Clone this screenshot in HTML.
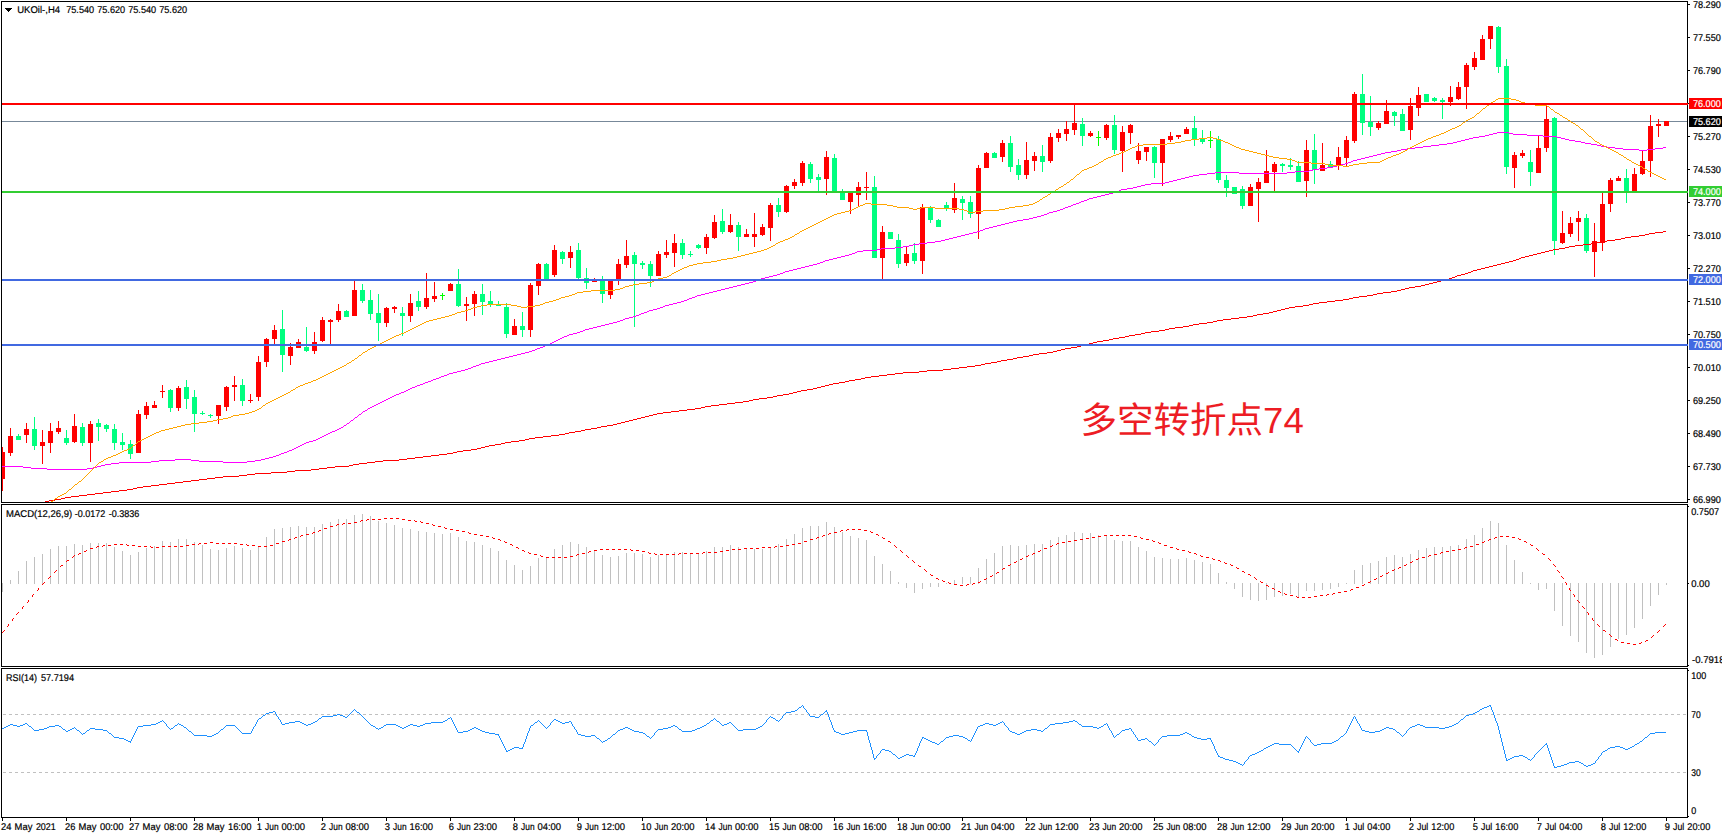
<!DOCTYPE html>
<html lang="zh"><head><meta charset="utf-8"><title>UKOil H4</title>
<style>html,body{margin:0;padding:0;background:#fff;overflow:hidden}svg{display:block}text{white-space:pre}</style></head>
<body>
<svg width="1722" height="838" viewBox="0 0 1722 838" font-family='"Liberation Sans", sans-serif' font-size="9.8" text-rendering="geometricPrecision">
<rect x="0" y="0" width="1722" height="838" fill="#fff"/>
<g shape-rendering="crispEdges">
<rect x="2" y="121" width="1685" height="1" fill="#778899"/>
<rect x="2" y="447" width="1" height="44" fill="#ff0000"/>
<rect x="2" y="452" width="3" height="27" fill="#ff0000"/>
<rect x="10" y="428" width="1" height="28" fill="#ff0000"/>
<rect x="8" y="436" width="5" height="17" fill="#ff0000"/>
<rect x="18" y="434" width="1" height="6" fill="#00ff7f"/>
<rect x="16" y="436" width="5" height="4" fill="#00ff7f"/>
<rect x="26" y="423" width="1" height="20" fill="#ff0000"/>
<rect x="24" y="429" width="5" height="6" fill="#ff0000"/>
<rect x="34" y="417" width="1" height="33" fill="#00ff7f"/>
<rect x="32" y="429" width="5" height="17" fill="#00ff7f"/>
<rect x="42" y="430" width="1" height="34" fill="#ff0000"/>
<rect x="40" y="442" width="5" height="4" fill="#ff0000"/>
<rect x="50" y="423" width="1" height="30" fill="#ff0000"/>
<rect x="48" y="431" width="5" height="12" fill="#ff0000"/>
<rect x="58" y="421" width="1" height="13" fill="#ff0000"/>
<rect x="56" y="428" width="5" height="4" fill="#ff0000"/>
<rect x="66" y="430" width="1" height="15" fill="#00ff7f"/>
<rect x="64" y="438" width="5" height="5" fill="#00ff7f"/>
<rect x="74" y="414" width="1" height="29" fill="#ff0000"/>
<rect x="72" y="426" width="5" height="16" fill="#ff0000"/>
<rect x="82" y="423" width="1" height="23" fill="#00ff7f"/>
<rect x="80" y="427" width="5" height="16" fill="#00ff7f"/>
<rect x="90" y="421" width="1" height="41" fill="#ff0000"/>
<rect x="88" y="424" width="5" height="19" fill="#ff0000"/>
<rect x="98" y="419" width="1" height="22" fill="#00ff7f"/>
<rect x="96" y="423" width="5" height="4" fill="#00ff7f"/>
<rect x="106" y="424" width="1" height="8" fill="#00ff7f"/>
<rect x="104" y="425" width="5" height="4" fill="#00ff7f"/>
<rect x="114" y="424" width="1" height="26" fill="#00ff7f"/>
<rect x="112" y="429" width="5" height="14" fill="#00ff7f"/>
<rect x="122" y="433" width="1" height="17" fill="#00ff7f"/>
<rect x="120" y="442" width="5" height="3" fill="#00ff7f"/>
<rect x="130" y="440" width="1" height="19" fill="#00ff7f"/>
<rect x="128" y="444" width="5" height="10" fill="#00ff7f"/>
<rect x="138" y="410" width="1" height="43" fill="#ff0000"/>
<rect x="136" y="414" width="5" height="39" fill="#ff0000"/>
<rect x="146" y="402" width="1" height="17" fill="#ff0000"/>
<rect x="144" y="406" width="5" height="9" fill="#ff0000"/>
<rect x="154" y="401" width="1" height="7" fill="#ff0000"/>
<rect x="152" y="405" width="5" height="3" fill="#ff0000"/>
<rect x="162" y="385" width="1" height="13" fill="#ff0000"/>
<rect x="160" y="391" width="5" height="1" fill="#ff0000"/>
<rect x="170" y="389" width="1" height="23" fill="#00ff7f"/>
<rect x="168" y="390" width="5" height="18" fill="#00ff7f"/>
<rect x="178" y="386" width="1" height="25" fill="#ff0000"/>
<rect x="176" y="388" width="5" height="20" fill="#ff0000"/>
<rect x="186" y="380" width="1" height="29" fill="#00ff7f"/>
<rect x="184" y="387" width="5" height="12" fill="#00ff7f"/>
<rect x="194" y="390" width="1" height="42" fill="#00ff7f"/>
<rect x="192" y="397" width="5" height="17" fill="#00ff7f"/>
<rect x="202" y="411" width="1" height="4" fill="#00ff7f"/>
<rect x="200" y="413" width="5" height="1" fill="#00ff7f"/>
<rect x="210" y="414" width="1" height="4" fill="#00ff7f"/>
<rect x="208" y="415" width="5" height="1" fill="#00ff7f"/>
<rect x="218" y="405" width="1" height="19" fill="#ff0000"/>
<rect x="216" y="405" width="5" height="11" fill="#ff0000"/>
<rect x="226" y="386" width="1" height="25" fill="#ff0000"/>
<rect x="224" y="387" width="5" height="20" fill="#ff0000"/>
<rect x="234" y="376" width="1" height="25" fill="#ff0000"/>
<rect x="232" y="385" width="5" height="2" fill="#ff0000"/>
<rect x="242" y="379" width="1" height="27" fill="#00ff7f"/>
<rect x="240" y="385" width="5" height="16" fill="#00ff7f"/>
<rect x="250" y="394" width="1" height="9" fill="#ff0000"/>
<rect x="248" y="400" width="5" height="1" fill="#ff0000"/>
<rect x="258" y="356" width="1" height="45" fill="#ff0000"/>
<rect x="256" y="362" width="5" height="35" fill="#ff0000"/>
<rect x="266" y="338" width="1" height="29" fill="#ff0000"/>
<rect x="264" y="339" width="5" height="23" fill="#ff0000"/>
<rect x="274" y="325" width="1" height="19" fill="#ff0000"/>
<rect x="272" y="330" width="5" height="9" fill="#ff0000"/>
<rect x="282" y="310" width="1" height="62" fill="#00ff7f"/>
<rect x="280" y="329" width="5" height="26" fill="#00ff7f"/>
<rect x="290" y="343" width="1" height="22" fill="#ff0000"/>
<rect x="288" y="347" width="5" height="9" fill="#ff0000"/>
<rect x="298" y="339" width="1" height="9" fill="#ff0000"/>
<rect x="296" y="342" width="5" height="6" fill="#ff0000"/>
<rect x="306" y="327" width="1" height="25" fill="#00ff7f"/>
<rect x="304" y="347" width="5" height="4" fill="#00ff7f"/>
<rect x="314" y="332" width="1" height="22" fill="#ff0000"/>
<rect x="312" y="342" width="5" height="9" fill="#ff0000"/>
<rect x="322" y="317" width="1" height="25" fill="#ff0000"/>
<rect x="320" y="320" width="5" height="21" fill="#ff0000"/>
<rect x="330" y="319" width="1" height="25" fill="#ff0000"/>
<rect x="328" y="320" width="5" height="2" fill="#ff0000"/>
<rect x="338" y="304" width="1" height="18" fill="#ff0000"/>
<rect x="336" y="311" width="5" height="9" fill="#ff0000"/>
<rect x="346" y="310" width="1" height="7" fill="#00ff7f"/>
<rect x="344" y="311" width="5" height="6" fill="#00ff7f"/>
<rect x="354" y="281" width="1" height="35" fill="#ff0000"/>
<rect x="352" y="290" width="5" height="26" fill="#ff0000"/>
<rect x="362" y="284" width="1" height="19" fill="#00ff7f"/>
<rect x="360" y="290" width="5" height="11" fill="#00ff7f"/>
<rect x="370" y="290" width="1" height="30" fill="#00ff7f"/>
<rect x="368" y="300" width="5" height="14" fill="#00ff7f"/>
<rect x="378" y="294" width="1" height="47" fill="#00ff7f"/>
<rect x="376" y="313" width="5" height="10" fill="#00ff7f"/>
<rect x="386" y="307" width="1" height="20" fill="#ff0000"/>
<rect x="384" y="308" width="5" height="15" fill="#ff0000"/>
<rect x="394" y="306" width="1" height="7" fill="#ff0000"/>
<rect x="392" y="307" width="5" height="2" fill="#ff0000"/>
<rect x="402" y="307" width="1" height="29" fill="#00ff7f"/>
<rect x="400" y="313" width="5" height="3" fill="#00ff7f"/>
<rect x="410" y="294" width="1" height="28" fill="#ff0000"/>
<rect x="408" y="303" width="5" height="13" fill="#ff0000"/>
<rect x="418" y="291" width="1" height="20" fill="#00ff7f"/>
<rect x="416" y="301" width="5" height="6" fill="#00ff7f"/>
<rect x="426" y="273" width="1" height="36" fill="#ff0000"/>
<rect x="424" y="298" width="5" height="9" fill="#ff0000"/>
<rect x="434" y="282" width="1" height="20" fill="#ff0000"/>
<rect x="432" y="296" width="5" height="3" fill="#ff0000"/>
<rect x="442" y="293" width="1" height="7" fill="#00ff00"/>
<rect x="440" y="295" width="5" height="1" fill="#00ff00"/>
<rect x="450" y="283" width="1" height="8" fill="#ff0000"/>
<rect x="448" y="284" width="5" height="7" fill="#ff0000"/>
<rect x="458" y="269" width="1" height="38" fill="#00ff7f"/>
<rect x="456" y="284" width="5" height="22" fill="#00ff7f"/>
<rect x="466" y="297" width="1" height="24" fill="#ff0000"/>
<rect x="464" y="304" width="5" height="2" fill="#ff0000"/>
<rect x="474" y="291" width="1" height="25" fill="#ff0000"/>
<rect x="472" y="294" width="5" height="10" fill="#ff0000"/>
<rect x="482" y="284" width="1" height="31" fill="#00ff7f"/>
<rect x="480" y="294" width="5" height="8" fill="#00ff7f"/>
<rect x="490" y="291" width="1" height="16" fill="#00ff7f"/>
<rect x="488" y="301" width="5" height="3" fill="#00ff7f"/>
<rect x="498" y="301" width="1" height="5" fill="#00ff7f"/>
<rect x="496" y="304" width="5" height="2" fill="#00ff7f"/>
<rect x="506" y="303" width="1" height="35" fill="#00ff7f"/>
<rect x="504" y="307" width="5" height="27" fill="#00ff7f"/>
<rect x="514" y="319" width="1" height="16" fill="#ff0000"/>
<rect x="512" y="326" width="5" height="9" fill="#ff0000"/>
<rect x="522" y="312" width="1" height="25" fill="#00ff7f"/>
<rect x="520" y="326" width="5" height="4" fill="#00ff7f"/>
<rect x="530" y="283" width="1" height="54" fill="#ff0000"/>
<rect x="528" y="285" width="5" height="45" fill="#ff0000"/>
<rect x="538" y="263" width="1" height="32" fill="#ff0000"/>
<rect x="536" y="264" width="5" height="22" fill="#ff0000"/>
<rect x="546" y="263" width="1" height="17" fill="#00ff7f"/>
<rect x="544" y="264" width="5" height="16" fill="#00ff7f"/>
<rect x="554" y="245" width="1" height="32" fill="#ff0000"/>
<rect x="552" y="250" width="5" height="25" fill="#ff0000"/>
<rect x="562" y="251" width="1" height="13" fill="#00ff7f"/>
<rect x="560" y="252" width="5" height="7" fill="#00ff7f"/>
<rect x="570" y="246" width="1" height="22" fill="#ff0000"/>
<rect x="568" y="252" width="5" height="6" fill="#ff0000"/>
<rect x="578" y="243" width="1" height="36" fill="#00ff7f"/>
<rect x="576" y="250" width="5" height="28" fill="#00ff7f"/>
<rect x="586" y="268" width="1" height="21" fill="#00ff7f"/>
<rect x="584" y="278" width="5" height="5" fill="#00ff7f"/>
<rect x="594" y="278" width="1" height="4" fill="#ff0000"/>
<rect x="592" y="279" width="5" height="3" fill="#ff0000"/>
<rect x="602" y="276" width="1" height="27" fill="#00ff7f"/>
<rect x="600" y="280" width="5" height="14" fill="#00ff7f"/>
<rect x="610" y="280" width="1" height="19" fill="#ff0000"/>
<rect x="608" y="280" width="5" height="15" fill="#ff0000"/>
<rect x="618" y="259" width="1" height="26" fill="#ff0000"/>
<rect x="616" y="264" width="5" height="15" fill="#ff0000"/>
<rect x="626" y="240" width="1" height="28" fill="#ff0000"/>
<rect x="624" y="256" width="5" height="9" fill="#ff0000"/>
<rect x="634" y="252" width="1" height="75" fill="#00ff7f"/>
<rect x="632" y="255" width="5" height="9" fill="#00ff7f"/>
<rect x="642" y="261" width="1" height="8" fill="#00ff7f"/>
<rect x="640" y="263" width="5" height="2" fill="#00ff7f"/>
<rect x="650" y="261" width="1" height="26" fill="#00ff7f"/>
<rect x="648" y="264" width="5" height="12" fill="#00ff7f"/>
<rect x="658" y="251" width="1" height="25" fill="#ff0000"/>
<rect x="656" y="254" width="5" height="22" fill="#ff0000"/>
<rect x="666" y="240" width="1" height="18" fill="#ff0000"/>
<rect x="664" y="252" width="5" height="3" fill="#ff0000"/>
<rect x="674" y="234" width="1" height="33" fill="#ff0000"/>
<rect x="672" y="243" width="5" height="10" fill="#ff0000"/>
<rect x="682" y="239" width="1" height="20" fill="#00ff7f"/>
<rect x="680" y="243" width="5" height="12" fill="#00ff7f"/>
<rect x="690" y="251" width="1" height="6" fill="#00ff7f"/>
<rect x="688" y="254" width="5" height="1" fill="#00ff7f"/>
<rect x="698" y="244" width="1" height="5" fill="#00ff7f"/>
<rect x="696" y="245" width="5" height="3" fill="#00ff7f"/>
<rect x="706" y="234" width="1" height="20" fill="#ff0000"/>
<rect x="704" y="237" width="5" height="11" fill="#ff0000"/>
<rect x="714" y="215" width="1" height="24" fill="#ff0000"/>
<rect x="712" y="222" width="5" height="16" fill="#ff0000"/>
<rect x="722" y="209" width="1" height="25" fill="#00ff7f"/>
<rect x="720" y="221" width="5" height="11" fill="#00ff7f"/>
<rect x="730" y="214" width="1" height="19" fill="#ff0000"/>
<rect x="728" y="225" width="5" height="7" fill="#ff0000"/>
<rect x="738" y="222" width="1" height="29" fill="#00ff7f"/>
<rect x="736" y="225" width="5" height="12" fill="#00ff7f"/>
<rect x="746" y="229" width="1" height="8" fill="#ff0000"/>
<rect x="744" y="234" width="5" height="3" fill="#ff0000"/>
<rect x="754" y="213" width="1" height="34" fill="#ff0000"/>
<rect x="752" y="234" width="5" height="3" fill="#ff0000"/>
<rect x="762" y="224" width="1" height="12" fill="#ff0000"/>
<rect x="760" y="227" width="5" height="8" fill="#ff0000"/>
<rect x="770" y="203" width="1" height="38" fill="#ff0000"/>
<rect x="768" y="205" width="5" height="23" fill="#ff0000"/>
<rect x="778" y="198" width="1" height="19" fill="#00ff7f"/>
<rect x="776" y="205" width="5" height="7" fill="#00ff7f"/>
<rect x="786" y="185" width="1" height="28" fill="#ff0000"/>
<rect x="784" y="186" width="5" height="26" fill="#ff0000"/>
<rect x="794" y="179" width="1" height="10" fill="#ff0000"/>
<rect x="792" y="182" width="5" height="4" fill="#ff0000"/>
<rect x="802" y="161" width="1" height="25" fill="#ff0000"/>
<rect x="800" y="163" width="5" height="20" fill="#ff0000"/>
<rect x="810" y="162" width="1" height="21" fill="#00ff7f"/>
<rect x="808" y="164" width="5" height="15" fill="#00ff7f"/>
<rect x="818" y="174" width="1" height="17" fill="#00ff7f"/>
<rect x="816" y="177" width="5" height="3" fill="#00ff7f"/>
<rect x="826" y="151" width="1" height="44" fill="#ff0000"/>
<rect x="824" y="157" width="5" height="22" fill="#ff0000"/>
<rect x="834" y="154" width="1" height="38" fill="#00ff7f"/>
<rect x="832" y="158" width="5" height="34" fill="#00ff7f"/>
<rect x="842" y="189" width="1" height="11" fill="#00ff7f"/>
<rect x="840" y="191" width="5" height="9" fill="#00ff7f"/>
<rect x="850" y="193" width="1" height="21" fill="#ff0000"/>
<rect x="848" y="193" width="5" height="9" fill="#ff0000"/>
<rect x="858" y="182" width="1" height="24" fill="#ff0000"/>
<rect x="856" y="187" width="5" height="8" fill="#ff0000"/>
<rect x="866" y="172" width="1" height="28" fill="#ff0000"/>
<rect x="864" y="187" width="5" height="1" fill="#ff0000"/>
<rect x="874" y="176" width="1" height="82" fill="#00ff7f"/>
<rect x="872" y="187" width="5" height="71" fill="#00ff7f"/>
<rect x="882" y="226" width="1" height="53" fill="#ff0000"/>
<rect x="880" y="232" width="5" height="26" fill="#ff0000"/>
<rect x="890" y="232" width="1" height="7" fill="#00ff7f"/>
<rect x="888" y="232" width="5" height="7" fill="#00ff7f"/>
<rect x="898" y="234" width="1" height="34" fill="#00ff7f"/>
<rect x="896" y="240" width="5" height="24" fill="#00ff7f"/>
<rect x="906" y="246" width="1" height="20" fill="#ff0000"/>
<rect x="904" y="254" width="5" height="9" fill="#ff0000"/>
<rect x="914" y="243" width="1" height="21" fill="#00ff7f"/>
<rect x="912" y="253" width="5" height="8" fill="#00ff7f"/>
<rect x="922" y="204" width="1" height="70" fill="#ff0000"/>
<rect x="920" y="207" width="5" height="54" fill="#ff0000"/>
<rect x="930" y="206" width="1" height="17" fill="#00ff7f"/>
<rect x="928" y="207" width="5" height="13" fill="#00ff7f"/>
<rect x="938" y="219" width="1" height="8" fill="#00ff7f"/>
<rect x="936" y="220" width="5" height="7" fill="#00ff7f"/>
<rect x="946" y="202" width="1" height="9" fill="#00ff7f"/>
<rect x="944" y="205" width="5" height="3" fill="#00ff7f"/>
<rect x="954" y="183" width="1" height="30" fill="#ff0000"/>
<rect x="952" y="198" width="5" height="12" fill="#ff0000"/>
<rect x="962" y="196" width="1" height="24" fill="#00ff7f"/>
<rect x="960" y="199" width="5" height="4" fill="#00ff7f"/>
<rect x="970" y="196" width="1" height="22" fill="#00ff7f"/>
<rect x="968" y="202" width="5" height="12" fill="#00ff7f"/>
<rect x="978" y="165" width="1" height="74" fill="#ff0000"/>
<rect x="976" y="168" width="5" height="46" fill="#ff0000"/>
<rect x="986" y="152" width="1" height="16" fill="#ff0000"/>
<rect x="984" y="153" width="5" height="15" fill="#ff0000"/>
<rect x="994" y="152" width="1" height="6" fill="#00ff7f"/>
<rect x="992" y="153" width="5" height="5" fill="#00ff7f"/>
<rect x="1002" y="140" width="1" height="22" fill="#ff0000"/>
<rect x="1000" y="143" width="5" height="14" fill="#ff0000"/>
<rect x="1010" y="136" width="1" height="36" fill="#00ff7f"/>
<rect x="1008" y="143" width="5" height="24" fill="#00ff7f"/>
<rect x="1018" y="159" width="1" height="21" fill="#00ff7f"/>
<rect x="1016" y="165" width="5" height="10" fill="#00ff7f"/>
<rect x="1026" y="142" width="1" height="37" fill="#ff0000"/>
<rect x="1024" y="160" width="5" height="15" fill="#ff0000"/>
<rect x="1034" y="152" width="1" height="19" fill="#ff0000"/>
<rect x="1032" y="156" width="5" height="5" fill="#ff0000"/>
<rect x="1042" y="145" width="1" height="27" fill="#00ff7f"/>
<rect x="1040" y="156" width="5" height="6" fill="#00ff7f"/>
<rect x="1050" y="133" width="1" height="30" fill="#ff0000"/>
<rect x="1048" y="137" width="5" height="24" fill="#ff0000"/>
<rect x="1058" y="129" width="1" height="13" fill="#ff0000"/>
<rect x="1056" y="133" width="5" height="5" fill="#ff0000"/>
<rect x="1066" y="121" width="1" height="20" fill="#ff0000"/>
<rect x="1064" y="129" width="5" height="5" fill="#ff0000"/>
<rect x="1074" y="105" width="1" height="30" fill="#ff0000"/>
<rect x="1072" y="123" width="5" height="7" fill="#ff0000"/>
<rect x="1082" y="118" width="1" height="28" fill="#00ff7f"/>
<rect x="1080" y="124" width="5" height="12" fill="#00ff7f"/>
<rect x="1090" y="131" width="1" height="6" fill="#ff0000"/>
<rect x="1088" y="133" width="5" height="3" fill="#ff0000"/>
<rect x="1098" y="131" width="1" height="15" fill="#00ff00"/>
<rect x="1096" y="137" width="5" height="1" fill="#00ff00"/>
<rect x="1106" y="124" width="1" height="16" fill="#ff0000"/>
<rect x="1104" y="125" width="5" height="13" fill="#ff0000"/>
<rect x="1114" y="115" width="1" height="39" fill="#00ff7f"/>
<rect x="1112" y="125" width="5" height="25" fill="#00ff7f"/>
<rect x="1122" y="126" width="1" height="46" fill="#ff0000"/>
<rect x="1120" y="132" width="5" height="19" fill="#ff0000"/>
<rect x="1130" y="124" width="1" height="20" fill="#ff0000"/>
<rect x="1128" y="125" width="5" height="8" fill="#ff0000"/>
<rect x="1138" y="143" width="1" height="21" fill="#ff0000"/>
<rect x="1136" y="151" width="5" height="9" fill="#ff0000"/>
<rect x="1146" y="147" width="1" height="14" fill="#ff0000"/>
<rect x="1144" y="147" width="5" height="5" fill="#ff0000"/>
<rect x="1154" y="146" width="1" height="32" fill="#00ff7f"/>
<rect x="1152" y="147" width="5" height="16" fill="#00ff7f"/>
<rect x="1162" y="139" width="1" height="47" fill="#ff0000"/>
<rect x="1160" y="139" width="5" height="24" fill="#ff0000"/>
<rect x="1170" y="132" width="1" height="10" fill="#ff0000"/>
<rect x="1168" y="136" width="5" height="4" fill="#ff0000"/>
<rect x="1178" y="135" width="1" height="4" fill="#ff0000"/>
<rect x="1176" y="135" width="5" height="2" fill="#ff0000"/>
<rect x="1186" y="127" width="1" height="7" fill="#ff0000"/>
<rect x="1184" y="129" width="5" height="5" fill="#ff0000"/>
<rect x="1194" y="116" width="1" height="30" fill="#00ff7f"/>
<rect x="1192" y="128" width="5" height="11" fill="#00ff7f"/>
<rect x="1202" y="130" width="1" height="14" fill="#00ff7f"/>
<rect x="1200" y="139" width="5" height="3" fill="#00ff7f"/>
<rect x="1210" y="131" width="1" height="17" fill="#00ff00"/>
<rect x="1208" y="140" width="5" height="1" fill="#00ff00"/>
<rect x="1218" y="136" width="1" height="47" fill="#00ff7f"/>
<rect x="1216" y="139" width="5" height="41" fill="#00ff7f"/>
<rect x="1226" y="175" width="1" height="22" fill="#00ff7f"/>
<rect x="1224" y="180" width="5" height="8" fill="#00ff7f"/>
<rect x="1234" y="187" width="1" height="7" fill="#00ff7f"/>
<rect x="1232" y="187" width="5" height="7" fill="#00ff7f"/>
<rect x="1242" y="186" width="1" height="23" fill="#00ff7f"/>
<rect x="1240" y="189" width="5" height="17" fill="#00ff7f"/>
<rect x="1250" y="184" width="1" height="22" fill="#ff0000"/>
<rect x="1248" y="187" width="5" height="19" fill="#ff0000"/>
<rect x="1258" y="178" width="1" height="44" fill="#ff0000"/>
<rect x="1256" y="182" width="5" height="7" fill="#ff0000"/>
<rect x="1266" y="150" width="1" height="33" fill="#ff0000"/>
<rect x="1264" y="171" width="5" height="12" fill="#ff0000"/>
<rect x="1274" y="162" width="1" height="29" fill="#ff0000"/>
<rect x="1272" y="164" width="5" height="8" fill="#ff0000"/>
<rect x="1282" y="163" width="1" height="9" fill="#00ff7f"/>
<rect x="1280" y="164" width="5" height="2" fill="#00ff7f"/>
<rect x="1290" y="158" width="1" height="12" fill="#00ff7f"/>
<rect x="1288" y="165" width="5" height="2" fill="#00ff7f"/>
<rect x="1298" y="161" width="1" height="21" fill="#00ff7f"/>
<rect x="1296" y="166" width="5" height="16" fill="#00ff7f"/>
<rect x="1306" y="140" width="1" height="57" fill="#ff0000"/>
<rect x="1304" y="150" width="5" height="31" fill="#ff0000"/>
<rect x="1314" y="134" width="1" height="50" fill="#00ff7f"/>
<rect x="1312" y="150" width="5" height="20" fill="#00ff7f"/>
<rect x="1322" y="143" width="1" height="28" fill="#ff0000"/>
<rect x="1320" y="165" width="5" height="6" fill="#ff0000"/>
<rect x="1330" y="161" width="1" height="6" fill="#00ff7f"/>
<rect x="1328" y="164" width="5" height="3" fill="#00ff7f"/>
<rect x="1338" y="147" width="1" height="23" fill="#ff0000"/>
<rect x="1336" y="157" width="5" height="9" fill="#ff0000"/>
<rect x="1346" y="136" width="1" height="31" fill="#ff0000"/>
<rect x="1344" y="140" width="5" height="18" fill="#ff0000"/>
<rect x="1354" y="92" width="1" height="51" fill="#ff0000"/>
<rect x="1352" y="94" width="5" height="47" fill="#ff0000"/>
<rect x="1362" y="74" width="1" height="61" fill="#00ff7f"/>
<rect x="1360" y="94" width="5" height="29" fill="#00ff7f"/>
<rect x="1370" y="96" width="1" height="40" fill="#00ff7f"/>
<rect x="1368" y="122" width="5" height="5" fill="#00ff7f"/>
<rect x="1378" y="121" width="1" height="9" fill="#ff0000"/>
<rect x="1376" y="123" width="5" height="5" fill="#ff0000"/>
<rect x="1386" y="100" width="1" height="24" fill="#ff0000"/>
<rect x="1384" y="111" width="5" height="13" fill="#ff0000"/>
<rect x="1394" y="111" width="1" height="15" fill="#00ff7f"/>
<rect x="1392" y="112" width="5" height="4" fill="#00ff7f"/>
<rect x="1402" y="109" width="1" height="22" fill="#00ff7f"/>
<rect x="1400" y="114" width="5" height="17" fill="#00ff7f"/>
<rect x="1410" y="98" width="1" height="42" fill="#ff0000"/>
<rect x="1408" y="106" width="5" height="24" fill="#ff0000"/>
<rect x="1418" y="87" width="1" height="29" fill="#ff0000"/>
<rect x="1416" y="95" width="5" height="13" fill="#ff0000"/>
<rect x="1426" y="94" width="1" height="8" fill="#00ff7f"/>
<rect x="1424" y="94" width="5" height="8" fill="#00ff7f"/>
<rect x="1434" y="97" width="1" height="5" fill="#00ff7f"/>
<rect x="1432" y="98" width="5" height="3" fill="#00ff7f"/>
<rect x="1442" y="98" width="1" height="21" fill="#00ff7f"/>
<rect x="1440" y="100" width="5" height="2" fill="#00ff7f"/>
<rect x="1450" y="86" width="1" height="20" fill="#ff0000"/>
<rect x="1448" y="97" width="5" height="5" fill="#ff0000"/>
<rect x="1458" y="82" width="1" height="18" fill="#ff0000"/>
<rect x="1456" y="87" width="5" height="12" fill="#ff0000"/>
<rect x="1466" y="63" width="1" height="46" fill="#ff0000"/>
<rect x="1464" y="65" width="5" height="22" fill="#ff0000"/>
<rect x="1474" y="52" width="1" height="18" fill="#ff0000"/>
<rect x="1472" y="58" width="5" height="9" fill="#ff0000"/>
<rect x="1482" y="35" width="1" height="25" fill="#ff0000"/>
<rect x="1480" y="39" width="5" height="21" fill="#ff0000"/>
<rect x="1490" y="26" width="1" height="23" fill="#ff0000"/>
<rect x="1488" y="26" width="5" height="13" fill="#ff0000"/>
<rect x="1498" y="26" width="1" height="47" fill="#00ff7f"/>
<rect x="1496" y="27" width="5" height="40" fill="#00ff7f"/>
<rect x="1506" y="59" width="1" height="115" fill="#00ff7f"/>
<rect x="1504" y="66" width="5" height="101" fill="#00ff7f"/>
<rect x="1514" y="152" width="1" height="36" fill="#ff0000"/>
<rect x="1512" y="155" width="5" height="13" fill="#ff0000"/>
<rect x="1522" y="150" width="1" height="8" fill="#ff0000"/>
<rect x="1520" y="153" width="5" height="3" fill="#ff0000"/>
<rect x="1530" y="150" width="1" height="36" fill="#00ff7f"/>
<rect x="1528" y="162" width="5" height="10" fill="#00ff7f"/>
<rect x="1538" y="136" width="1" height="37" fill="#ff0000"/>
<rect x="1536" y="148" width="5" height="25" fill="#ff0000"/>
<rect x="1546" y="106" width="1" height="46" fill="#ff0000"/>
<rect x="1544" y="119" width="5" height="29" fill="#ff0000"/>
<rect x="1554" y="117" width="1" height="138" fill="#00ff7f"/>
<rect x="1552" y="118" width="5" height="123" fill="#00ff7f"/>
<rect x="1562" y="211" width="1" height="33" fill="#ff0000"/>
<rect x="1560" y="233" width="5" height="10" fill="#ff0000"/>
<rect x="1570" y="217" width="1" height="20" fill="#ff0000"/>
<rect x="1568" y="223" width="5" height="11" fill="#ff0000"/>
<rect x="1578" y="211" width="1" height="30" fill="#ff0000"/>
<rect x="1576" y="218" width="5" height="4" fill="#ff0000"/>
<rect x="1586" y="214" width="1" height="39" fill="#00ff7f"/>
<rect x="1584" y="218" width="5" height="33" fill="#00ff7f"/>
<rect x="1594" y="223" width="1" height="54" fill="#ff0000"/>
<rect x="1592" y="241" width="5" height="11" fill="#ff0000"/>
<rect x="1602" y="193" width="1" height="58" fill="#ff0000"/>
<rect x="1600" y="204" width="5" height="39" fill="#ff0000"/>
<rect x="1610" y="178" width="1" height="34" fill="#ff0000"/>
<rect x="1608" y="180" width="5" height="24" fill="#ff0000"/>
<rect x="1618" y="176" width="1" height="5" fill="#ff0000"/>
<rect x="1616" y="178" width="5" height="3" fill="#ff0000"/>
<rect x="1626" y="169" width="1" height="34" fill="#00ff7f"/>
<rect x="1624" y="178" width="5" height="14" fill="#00ff7f"/>
<rect x="1634" y="168" width="1" height="24" fill="#ff0000"/>
<rect x="1632" y="174" width="5" height="18" fill="#ff0000"/>
<rect x="1642" y="150" width="1" height="25" fill="#ff0000"/>
<rect x="1640" y="161" width="5" height="13" fill="#ff0000"/>
<rect x="1650" y="115" width="1" height="62" fill="#ff0000"/>
<rect x="1648" y="126" width="5" height="35" fill="#ff0000"/>
<rect x="1658" y="119" width="1" height="18" fill="#ff0000"/>
<rect x="1656" y="124" width="5" height="2" fill="#ff0000"/>
<rect x="1666" y="121" width="1" height="5" fill="#ff0000"/>
<rect x="1664" y="121" width="5" height="5" fill="#ff0000"/>
<path d="M1663 231.5h3M1655 232.5h8M1649 233.5h6M1645 234.5h4M1639 235.5h6M1631 236.5h8M1625 237.5h6M1621 238.5h4M1615 239.5h6M1607 240.5h8M1601 241.5h6M1597 242.5h4M1591 243.5h6M1583 244.5h8M1575 245.5h8M1569 246.5h6M1565 247.5h4M1559 248.5h6M1553 249.5h6M1549 250.5h4M1545 251.5h4M1541 252.5h4M1537 253.5h4M1533 254.5h4M1529 255.5h4M1525 256.5h4M1521 257.5h4M1519 258.5h2M1516 259.5h3M1513 260.5h3M1509 261.5h4M1505 262.5h4M1501 263.5h4M1497 264.5h4M1493 265.5h4M1489 266.5h4M1485 267.5h4M1481 268.5h4M1477 269.5h4M1473 270.5h4M1471 271.5h2M1468 272.5h3M1465 273.5h3M1461 274.5h4M1457 275.5h4M1455 276.5h2M1452 277.5h3M1449 278.5h3M1445 279.5h4M1441 280.5h4M1437 281.5h4M1433 282.5h4M1429 283.5h4M1425 284.5h4M1421 285.5h4M1415 286.5h6M1409 287.5h6M1405 288.5h4M1401 289.5h4M1397 290.5h4M1391 291.5h6M1383 292.5h8M1377 293.5h6M1373 294.5h4M1367 295.5h6M1359 296.5h8M1353 297.5h6M1349 298.5h4M1343 299.5h6M1335 300.5h8M1327 301.5h8M1319 302.5h8M1313 303.5h6M1309 304.5h4M1303 305.5h6M1295 306.5h8M1289 307.5h6M1285 308.5h4M1281 309.5h4M1277 310.5h4M1273 311.5h4M1269 312.5h4M1263 313.5h6M1257 314.5h6M1253 315.5h4M1247 316.5h6M1239 317.5h8M1231 318.5h8M1223 319.5h8M1217 320.5h6M1213 321.5h4M1207 322.5h6M1199 323.5h8M1193 324.5h6M1189 325.5h4M1183 326.5h6M1175 327.5h8M1169 328.5h6M1165 329.5h4M1159 330.5h6M1151 331.5h8M1145 332.5h6M1141 333.5h4M1135 334.5h6M1129 335.5h6M1125 336.5h4M1119 337.5h6M1113 338.5h6M1109 339.5h4M1103 340.5h6M1097 341.5h6M1093 342.5h4M1089 343.5h4M1085 344.5h4M1081 345.5h4M1077 346.5h4M1071 347.5h6M1065 348.5h6M1061 349.5h4M1057 350.5h4M1053 351.5h4M1047 352.5h6M1039 353.5h8M1033 354.5h6M1029 355.5h4M1023 356.5h6M1017 357.5h6M1013 358.5h4M1007 359.5h6M1001 360.5h6M997 361.5h4M991 362.5h6M985 363.5h6M981 364.5h4M975 365.5h6M967 366.5h8M959 367.5h8M951 368.5h8M943 369.5h8M927 370.5h16M919 371.5h8M903 372.5h16M895 373.5h8M887 374.5h8M879 375.5h8M871 376.5h8M865 377.5h6M861 378.5h4M855 379.5h6M849 380.5h6M845 381.5h4M839 382.5h6M833 383.5h6M829 384.5h4M825 385.5h4M821 386.5h4M817 387.5h4M813 388.5h4M807 389.5h6M801 390.5h6M797 391.5h4M793 392.5h4M789 393.5h4M783 394.5h6M777 395.5h6M773 396.5h4M767 397.5h6M759 398.5h8M753 399.5h6M749 400.5h4M743 401.5h6M735 402.5h8M727 403.5h8M719 404.5h8M711 405.5h8M705 406.5h6M701 407.5h4M695 408.5h6M687 409.5h8M679 410.5h8M671 411.5h8M663 412.5h8M657 413.5h6M653 414.5h4M649 415.5h4M645 416.5h4M641 417.5h4M637 418.5h4M633 419.5h4M629 420.5h4M625 421.5h4M621 422.5h4M617 423.5h4M613 424.5h4M607 425.5h6M601 426.5h6M597 427.5h4M591 428.5h6M585 429.5h6M581 430.5h4M575 431.5h6M569 432.5h6M565 433.5h4M559 434.5h6M551 435.5h8M543 436.5h8M535 437.5h8M529 438.5h6M525 439.5h4M519 440.5h6M511 441.5h8M505 442.5h6M501 443.5h4M495 444.5h6M489 445.5h6M485 446.5h4M481 447.5h4M477 448.5h4M471 449.5h6M463 450.5h8M457 451.5h6M453 452.5h4M447 453.5h6M439 454.5h8M431 455.5h8M423 456.5h8M415 457.5h8M407 458.5h8M399 459.5h8M383 460.5h16M375 461.5h8M367 462.5h8M359 463.5h8M353 464.5h6M349 465.5h4M335 466.5h14M327 467.5h8M319 468.5h8M311 469.5h8M295 470.5h16M287 471.5h8M271 472.5h16M255 473.5h16M247 474.5h8M239 475.5h8M223 476.5h16M215 477.5h8M207 478.5h8M199 479.5h8M191 480.5h8M183 481.5h8M175 482.5h8M167 483.5h8M159 484.5h8M151 485.5h8M143 486.5h8M137 487.5h6M133 488.5h4M127 489.5h6M119 490.5h8M111 491.5h8M103 492.5h8M95 493.5h8M87 494.5h8M79 495.5h8M71 496.5h8M65 497.5h6M61 498.5h4M55 499.5h6M49 500.5h6M45 501.5h4" fill="none" stroke="#ff0000" stroke-width="1"/>
<path d="M1497 132.5h12M1493 133.5h4M1509 133.5h4M1489 134.5h4M1513 134.5h14M1485 135.5h4M1527 135.5h16M1479 136.5h6M1543 136.5h14M1473 137.5h6M1557 137.5h4M1469 138.5h4M1561 138.5h4M1465 139.5h4M1565 139.5h4M1461 140.5h4M1569 140.5h6M1457 141.5h4M1575 141.5h6M1453 142.5h4M1581 142.5h4M1447 143.5h6M1585 143.5h6M1439 144.5h8M1591 144.5h6M1431 145.5h8M1597 145.5h4M1423 146.5h8M1601 146.5h6M1415 147.5h8M1607 147.5h8M1663 147.5h3M1407 148.5h8M1615 148.5h8M1655 148.5h8M1401 149.5h6M1623 149.5h16M1647 149.5h8M1397 150.5h4M1639 150.5h8M1391 151.5h6M1385 152.5h6M1381 153.5h4M1377 154.5h4M1373 155.5h4M1369 156.5h4M1365 157.5h4M1361 158.5h4M1357 159.5h4M1353 160.5h4M1351 161.5h2M1348 162.5h3M1345 163.5h3M1341 164.5h4M1337 165.5h4M1333 166.5h4M1327 167.5h6M1319 168.5h8M1313 169.5h6M1309 170.5h4M1295 171.5h14M1215 172.5h24M1287 172.5h8M1207 173.5h8M1239 173.5h48M1199 174.5h8M1193 175.5h6M1189 176.5h4M1185 177.5h4M1181 178.5h4M1177 179.5h4M1173 180.5h4M1169 181.5h4M1165 182.5h4M1151 183.5h14M1145 184.5h6M1141 185.5h4M1137 186.5h4M1133 187.5h4M1127 188.5h6M1121 189.5h6M1119 190.5h2M1116 191.5h3M1113 192.5h3M1109 193.5h4M1105 194.5h4M1101 195.5h4M1097 196.5h4M1093 197.5h4M1089 198.5h4M1087 199.5h2M1084 200.5h3M1081 201.5h3M1079 202.5h2M1076 203.5h3M1073 204.5h3M1071 205.5h2M1068 206.5h3M1065 207.5h3M1063 208.5h2M1060 209.5h3M1057 210.5h3M1053 211.5h4M1049 212.5h4M1047 213.5h2M1044 214.5h3M1041 215.5h3M1037 216.5h4M1033 217.5h4M1029 218.5h4M1023 219.5h6M1017 220.5h6M1013 221.5h4M1009 222.5h4M1005 223.5h4M1001 224.5h4M997 225.5h4M993 226.5h4M989 227.5h4M985 228.5h4M983 229.5h2M980 230.5h3M977 231.5h3M973 232.5h4M969 233.5h4M965 234.5h4M961 235.5h4M957 236.5h4M953 237.5h4M949 238.5h4M945 239.5h4M941 240.5h4M935 241.5h6M927 242.5h8M919 243.5h8M913 244.5h6M909 245.5h4M903 246.5h6M895 247.5h8M881 248.5h14M877 249.5h4M863 250.5h14M857 251.5h6M855 252.5h2M852 253.5h3M849 254.5h3M845 255.5h4M841 256.5h4M837 257.5h4M833 258.5h4M829 259.5h4M825 260.5h4M823 261.5h2M820 262.5h3M817 263.5h3M813 264.5h4M809 265.5h4M805 266.5h4M801 267.5h4M797 268.5h4M793 269.5h4M789 270.5h4M785 271.5h4M783 272.5h2M780 273.5h3M777 274.5h3M773 275.5h4M769 276.5h4M765 277.5h4M761 278.5h4M759 279.5h2M756 280.5h3M753 281.5h3M749 282.5h4M745 283.5h4M741 284.5h4M737 285.5h4M733 286.5h4M729 287.5h4M725 288.5h4M721 289.5h4M717 290.5h4M713 291.5h4M709 292.5h4M705 293.5h4M701 294.5h4M697 295.5h4M695 296.5h2M692 297.5h3M689 298.5h3M687 299.5h2M684 300.5h3M681 301.5h3M677 302.5h4M673 303.5h4M669 304.5h4M665 305.5h4M663 306.5h2M660 307.5h3M657 308.5h3M653 309.5h4M649 310.5h4M647 311.5h2M644 312.5h3M641 313.5h3M639 314.5h2M636 315.5h3M633 316.5h3M629 317.5h4M625 318.5h4M623 319.5h2M620 320.5h3M617 321.5h3M613 322.5h4M609 323.5h4M605 324.5h4M601 325.5h4M597 326.5h4M593 327.5h4M589 328.5h4M585 329.5h4M583 330.5h2M580 331.5h3M577 332.5h3M573 333.5h4M569 334.5h4M567 335.5h2M564 336.5h3M562 337.5h2M560 338.5h2M558 339.5h2M556 340.5h2M554 341.5h2M552 342.5h2M550 343.5h2M548 344.5h2M545 345.5h3M543 346.5h2M540 347.5h3M537 348.5h3M535 349.5h2M532 350.5h3M529 351.5h3M525 352.5h4M521 353.5h4M517 354.5h4M513 355.5h4M509 356.5h4M505 357.5h4M501 358.5h4M497 359.5h4M493 360.5h4M489 361.5h4M485 362.5h4M481 363.5h4M479 364.5h2M476 365.5h3M473 366.5h3M471 367.5h2M468 368.5h3M465 369.5h3M461 370.5h4M457 371.5h4M453 372.5h4M449 373.5h4M447 374.5h2M444 375.5h3M441 376.5h3M439 377.5h2M436 378.5h3M433 379.5h3M431 380.5h2M428 381.5h3M425 382.5h3M423 383.5h2M420 384.5h3M417 385.5h3M415 386.5h2M412 387.5h3M410 388.5h2M408 389.5h2M406 390.5h2M404 391.5h2M401 392.5h3M399 393.5h2M396 394.5h3M394 395.5h2M392 396.5h2M390 397.5h2M388 398.5h2M386 399.5h2M384 400.5h2M382 401.5h2M380 402.5h2M378 403.5h2M376 404.5h2M374 405.5h2M372 406.5h2M370 407.5h2M368 408.5h2M367 409.5h1M365 410.5h2M363 411.5h2M362 412.5h1M361 413.5h1M359 414.5h2M358 415.5h1M357 416.5h1M355 417.5h2M354 418.5h1M353 419.5h1M351 420.5h2M350 421.5h1M349 422.5h1M347 423.5h2M346 424.5h1M344 425.5h2M343 426.5h1M341 427.5h2M339 428.5h2M337 429.5h2M335 430.5h2M332 431.5h3M330 432.5h2M328 433.5h2M326 434.5h2M324 435.5h2M322 436.5h2M320 437.5h2M318 438.5h2M316 439.5h2M313 440.5h3M309 441.5h4M306 442.5h3M304 443.5h2M302 444.5h2M300 445.5h2M298 446.5h2M296 447.5h2M294 448.5h2M292 449.5h2M289 450.5h3M287 451.5h2M284 452.5h3M281 453.5h3M279 454.5h2M276 455.5h3M273 456.5h3M269 457.5h4M265 458.5h4M175 459.5h16M261 459.5h4M159 460.5h16M191 460.5h8M255 460.5h6M151 461.5h8M199 461.5h24M247 461.5h8M119 462.5h32M223 462.5h24M111 463.5h8M105 464.5h6M101 465.5h4M2 466.5h21M97 466.5h4M23 467.5h8M93 467.5h4M31 468.5h16M87 468.5h6M47 469.5h40" fill="none" stroke="#ff00ff" stroke-width="1"/>
<path d="M1498 98.5h13M1496 99.5h2M1511 99.5h5M1495 100.5h1M1516 100.5h3M1493 101.5h2M1519 101.5h2M1491 102.5h2M1521 102.5h4M1490 103.5h1M1525 103.5h4M1489 104.5h1M1529 104.5h6M1487 105.5h2M1535 105.5h12M1486 106.5h1M1547 106.5h2M1485 107.5h1M1549 107.5h1M1483 108.5h2M1550 108.5h1M1482 109.5h1M1551 109.5h2M1481 110.5h1M1553 110.5h1M1480 111.5h1M1554 111.5h1M1479 112.5h1M1555 112.5h2M1477 113.5h2M1557 113.5h2M1476 114.5h1M1559 114.5h1M1475 115.5h1M1560 115.5h2M1474 116.5h1M1562 116.5h1M1472 117.5h2M1563 117.5h2M1470 118.5h2M1565 118.5h2M1468 119.5h2M1567 119.5h1M1466 120.5h2M1568 120.5h2M1465 121.5h1M1570 121.5h1M1463 122.5h2M1571 122.5h2M1462 123.5h1M1573 123.5h2M1461 124.5h1M1575 124.5h1M1459 125.5h2M1576 125.5h2M1457 126.5h2M1578 126.5h1M1455 127.5h2M1579 127.5h1M1452 128.5h3M1580 128.5h1M1450 129.5h2M1581 129.5h2M1448 130.5h2M1583 130.5h1M1446 131.5h2M1584 131.5h1M1444 132.5h2M1585 132.5h1M1441 133.5h3M1586 133.5h1M1439 134.5h2M1587 134.5h1M1436 135.5h3M1588 135.5h1M1433 136.5h3M1589 136.5h2M1207 137.5h6M1431 137.5h2M1591 137.5h1M1199 138.5h8M1213 138.5h4M1428 138.5h3M1592 138.5h1M1191 139.5h8M1217 139.5h3M1426 139.5h2M1593 139.5h1M1185 140.5h6M1220 140.5h3M1424 140.5h2M1594 140.5h1M1181 141.5h4M1223 141.5h2M1422 141.5h2M1595 141.5h2M1175 142.5h6M1225 142.5h3M1420 142.5h2M1597 142.5h2M1167 143.5h8M1228 143.5h2M1418 143.5h2M1599 143.5h1M1143 144.5h24M1230 144.5h2M1416 144.5h2M1600 144.5h2M1137 145.5h6M1232 145.5h2M1414 145.5h2M1602 145.5h2M1135 146.5h2M1234 146.5h2M1412 146.5h2M1604 146.5h2M1132 147.5h3M1236 147.5h3M1410 147.5h2M1606 147.5h2M1130 148.5h2M1239 148.5h2M1408 148.5h2M1608 148.5h2M1128 149.5h2M1241 149.5h4M1407 149.5h1M1610 149.5h2M1126 150.5h2M1245 150.5h4M1405 150.5h2M1612 150.5h2M1124 151.5h2M1249 151.5h4M1403 151.5h2M1614 151.5h2M1121 152.5h3M1253 152.5h4M1401 152.5h2M1616 152.5h2M1119 153.5h2M1257 153.5h4M1399 153.5h2M1618 153.5h1M1116 154.5h3M1261 154.5h4M1396 154.5h3M1619 154.5h2M1113 155.5h3M1265 155.5h4M1393 155.5h3M1621 155.5h2M1111 156.5h2M1269 156.5h4M1391 156.5h2M1623 156.5h1M1108 157.5h3M1273 157.5h6M1388 157.5h3M1624 157.5h2M1106 158.5h2M1279 158.5h8M1386 158.5h2M1626 158.5h1M1104 159.5h2M1287 159.5h5M1384 159.5h2M1627 159.5h2M1103 160.5h1M1292 160.5h3M1382 160.5h2M1629 160.5h2M1101 161.5h2M1295 161.5h2M1380 161.5h2M1631 161.5h1M1099 162.5h2M1297 162.5h14M1367 162.5h13M1632 162.5h2M1098 163.5h1M1311 163.5h14M1359 163.5h8M1634 163.5h2M1096 164.5h2M1325 164.5h4M1353 164.5h6M1636 164.5h2M1094 165.5h2M1329 165.5h14M1349 165.5h4M1638 165.5h2M1092 166.5h2M1343 166.5h6M1640 166.5h2M1089 167.5h3M1642 167.5h1M1087 168.5h2M1643 168.5h2M1084 169.5h3M1645 169.5h2M1082 170.5h2M1647 170.5h1M1081 171.5h1M1648 171.5h2M1080 172.5h1M1650 172.5h2M1079 173.5h1M1652 173.5h2M1077 174.5h2M1654 174.5h2M1076 175.5h1M1656 175.5h2M1075 176.5h1M1658 176.5h2M1074 177.5h1M1660 177.5h2M1073 178.5h1M1662 178.5h2M1071 179.5h2M1664 179.5h2M1070 180.5h1M1069 181.5h1M1067 182.5h2M1066 183.5h1M1064 184.5h2M1063 185.5h1M1061 186.5h2M1059 187.5h2M1058 188.5h1M1056 189.5h2M1055 190.5h1M1053 191.5h2M1051 192.5h2M1050 193.5h1M1048 194.5h2M1047 195.5h1M1045 196.5h2M1043 197.5h2M1042 198.5h1M1040 199.5h2M1039 200.5h1M1037 201.5h2M1035 202.5h2M865 203.5h6M1033 203.5h2M863 204.5h2M871 204.5h16M1029 204.5h4M860 205.5h3M887 205.5h6M1023 205.5h6M858 206.5h2M893 206.5h4M1015 206.5h8M856 207.5h2M897 207.5h12M921 207.5h14M1009 207.5h6M854 208.5h2M909 208.5h4M917 208.5h4M935 208.5h24M1005 208.5h4M852 209.5h2M913 209.5h4M959 209.5h5M999 209.5h6M849 210.5h3M964 210.5h3M983 210.5h16M845 211.5h4M967 211.5h2M975 211.5h8M841 212.5h4M969 212.5h6M837 213.5h4M834 214.5h3M832 215.5h2M830 216.5h2M828 217.5h2M826 218.5h2M824 219.5h2M822 220.5h2M820 221.5h2M818 222.5h2M816 223.5h2M814 224.5h2M812 225.5h2M810 226.5h2M808 227.5h2M806 228.5h2M804 229.5h2M802 230.5h2M800 231.5h2M799 232.5h1M797 233.5h2M795 234.5h2M794 235.5h1M792 236.5h2M790 237.5h2M788 238.5h2M785 239.5h3M783 240.5h2M780 241.5h3M778 242.5h2M776 243.5h2M775 244.5h1M773 245.5h2M771 246.5h2M769 247.5h2M767 248.5h2M764 249.5h3M761 250.5h3M757 251.5h4M753 252.5h4M749 253.5h4M745 254.5h4M741 255.5h4M737 256.5h4M733 257.5h4M727 258.5h6M721 259.5h6M717 260.5h4M711 261.5h6M703 262.5h8M697 263.5h6M693 264.5h4M689 265.5h4M687 266.5h2M684 267.5h3M682 268.5h2M680 269.5h2M678 270.5h2M676 271.5h2M674 272.5h2M672 273.5h2M671 274.5h1M669 275.5h2M667 276.5h2M663 277.5h4M658 278.5h5M656 279.5h2M654 280.5h2M652 281.5h2M647 282.5h5M639 283.5h8M633 284.5h6M629 285.5h4M625 286.5h4M623 287.5h2M620 288.5h3M615 289.5h5M591 290.5h24M583 291.5h8M577 292.5h6M575 293.5h2M572 294.5h3M569 295.5h3M565 296.5h4M561 297.5h4M559 298.5h2M556 299.5h3M553 300.5h3M549 301.5h4M545 302.5h4M543 303.5h2M487 304.5h24M540 304.5h3M481 305.5h6M511 305.5h6M535 305.5h5M477 306.5h4M517 306.5h4M527 306.5h8M473 307.5h4M521 307.5h6M471 308.5h2M468 309.5h3M465 310.5h3M461 311.5h4M457 312.5h4M455 313.5h2M452 314.5h3M449 315.5h3M445 316.5h4M441 317.5h4M437 318.5h4M433 319.5h4M429 320.5h4M426 321.5h3M424 322.5h2M422 323.5h2M420 324.5h2M418 325.5h2M416 326.5h2M414 327.5h2M412 328.5h2M410 329.5h2M408 330.5h2M406 331.5h2M404 332.5h2M401 333.5h3M399 334.5h2M396 335.5h3M394 336.5h2M392 337.5h2M390 338.5h2M388 339.5h2M386 340.5h2M384 341.5h2M382 342.5h2M380 343.5h2M378 344.5h2M376 345.5h2M374 346.5h2M372 347.5h2M370 348.5h2M368 349.5h2M367 350.5h1M365 351.5h2M363 352.5h2M362 353.5h1M361 354.5h1M359 355.5h2M358 356.5h1M357 357.5h1M355 358.5h2M354 359.5h1M352 360.5h2M351 361.5h1M349 362.5h2M347 363.5h2M346 364.5h1M344 365.5h2M342 366.5h2M340 367.5h2M338 368.5h2M336 369.5h2M334 370.5h2M332 371.5h2M330 372.5h2M328 373.5h2M326 374.5h2M324 375.5h2M322 376.5h2M320 377.5h2M318 378.5h2M316 379.5h2M313 380.5h3M311 381.5h2M308 382.5h3M305 383.5h3M303 384.5h2M300 385.5h3M298 386.5h2M296 387.5h2M295 388.5h1M293 389.5h2M291 390.5h2M290 391.5h1M288 392.5h2M286 393.5h2M284 394.5h2M282 395.5h2M280 396.5h2M278 397.5h2M276 398.5h2M274 399.5h2M272 400.5h2M270 401.5h2M268 402.5h2M266 403.5h2M265 404.5h1M263 405.5h2M262 406.5h1M261 407.5h1M259 408.5h2M257 409.5h2M255 410.5h2M252 411.5h3M249 412.5h3M245 413.5h4M239 414.5h6M233 415.5h6M231 416.5h2M228 417.5h3M223 418.5h5M217 419.5h6M213 420.5h4M207 421.5h6M199 422.5h8M191 423.5h8M185 424.5h6M181 425.5h4M177 426.5h4M173 427.5h4M169 428.5h4M165 429.5h4M161 430.5h4M159 431.5h2M156 432.5h3M154 433.5h2M152 434.5h2M150 435.5h2M148 436.5h2M146 437.5h2M144 438.5h2M142 439.5h2M140 440.5h2M138 441.5h2M137 442.5h1M136 443.5h1M135 444.5h1M133 445.5h2M132 446.5h1M131 447.5h1M129 448.5h2M127 449.5h2M124 450.5h3M122 451.5h2M120 452.5h2M118 453.5h2M116 454.5h2M113 455.5h3M111 456.5h2M108 457.5h3M106 458.5h2M104 459.5h2M103 460.5h1M101 461.5h2M99 462.5h2M98 463.5h1M97 464.5h1M96 465.5h1M95 466.5h1M94 467.5h1M93 468.5h1M92 469.5h1M91 470.5h1M90 471.5h1M89 472.5h1M88 473.5h1M87 474.5h1M86 475.5h1M85 476.5h1M84 477.5h1M83 478.5h1M82 479.5h1M81 480.5h1M79 481.5h2M78 482.5h1M77 483.5h1M75 484.5h2M74 485.5h1M73 486.5h1M72 487.5h1M71 488.5h1M69 489.5h2M68 490.5h1M67 491.5h1M66 492.5h1M64 493.5h2M62 494.5h2M60 495.5h2M58 496.5h2M57 497.5h1M55 498.5h2M54 499.5h1M53 500.5h1M51 501.5h2" fill="none" stroke="#ffa500" stroke-width="1"/>
<rect x="2" y="583" width="1" height="9.0" fill="#c0c0c0"/>
<rect x="10" y="580.0" width="1" height="4.0" fill="#c0c0c0"/>
<rect x="18" y="571.0" width="1" height="13.0" fill="#c0c0c0"/>
<rect x="26" y="561.0" width="1" height="23.0" fill="#c0c0c0"/>
<rect x="34" y="557.0" width="1" height="27.0" fill="#c0c0c0"/>
<rect x="42" y="554.0" width="1" height="30.0" fill="#c0c0c0"/>
<rect x="50" y="549.0" width="1" height="35.0" fill="#c0c0c0"/>
<rect x="58" y="546.0" width="1" height="38.0" fill="#c0c0c0"/>
<rect x="66" y="546.0" width="1" height="38.0" fill="#c0c0c0"/>
<rect x="74" y="544.0" width="1" height="40.0" fill="#c0c0c0"/>
<rect x="82" y="545.0" width="1" height="39.0" fill="#c0c0c0"/>
<rect x="90" y="543.0" width="1" height="41.0" fill="#c0c0c0"/>
<rect x="98" y="543.0" width="1" height="41.0" fill="#c0c0c0"/>
<rect x="106" y="543.0" width="1" height="41.0" fill="#c0c0c0"/>
<rect x="114" y="547.0" width="1" height="37.0" fill="#c0c0c0"/>
<rect x="122" y="551.0" width="1" height="33.0" fill="#c0c0c0"/>
<rect x="130" y="555.0" width="1" height="29.0" fill="#c0c0c0"/>
<rect x="138" y="552.0" width="1" height="32.0" fill="#c0c0c0"/>
<rect x="146" y="548.0" width="1" height="36.0" fill="#c0c0c0"/>
<rect x="154" y="546.0" width="1" height="38.0" fill="#c0c0c0"/>
<rect x="162" y="541.0" width="1" height="43.0" fill="#c0c0c0"/>
<rect x="170" y="542.0" width="1" height="42.0" fill="#c0c0c0"/>
<rect x="178" y="539.0" width="1" height="45.0" fill="#c0c0c0"/>
<rect x="186" y="539.0" width="1" height="45.0" fill="#c0c0c0"/>
<rect x="194" y="542.0" width="1" height="42.0" fill="#c0c0c0"/>
<rect x="202" y="545.0" width="1" height="39.0" fill="#c0c0c0"/>
<rect x="210" y="549.0" width="1" height="35.0" fill="#c0c0c0"/>
<rect x="218" y="550.0" width="1" height="34.0" fill="#c0c0c0"/>
<rect x="226" y="548.0" width="1" height="36.0" fill="#c0c0c0"/>
<rect x="234" y="546.0" width="1" height="38.0" fill="#c0c0c0"/>
<rect x="242" y="548.0" width="1" height="36.0" fill="#c0c0c0"/>
<rect x="250" y="550.0" width="1" height="34.0" fill="#c0c0c0"/>
<rect x="258" y="546.0" width="1" height="38.0" fill="#c0c0c0"/>
<rect x="266" y="537.0" width="1" height="47.0" fill="#c0c0c0"/>
<rect x="274" y="529.0" width="1" height="55.0" fill="#c0c0c0"/>
<rect x="282" y="528.0" width="1" height="56.0" fill="#c0c0c0"/>
<rect x="290" y="527.0" width="1" height="57.0" fill="#c0c0c0"/>
<rect x="298" y="526.0" width="1" height="58.0" fill="#c0c0c0"/>
<rect x="306" y="527.0" width="1" height="57.0" fill="#c0c0c0"/>
<rect x="314" y="527.0" width="1" height="57.0" fill="#c0c0c0"/>
<rect x="322" y="524.0" width="1" height="60.0" fill="#c0c0c0"/>
<rect x="330" y="522.0" width="1" height="62.0" fill="#c0c0c0"/>
<rect x="338" y="519.0" width="1" height="65.0" fill="#c0c0c0"/>
<rect x="346" y="519.0" width="1" height="65.0" fill="#c0c0c0"/>
<rect x="354" y="515.0" width="1" height="69.0" fill="#c0c0c0"/>
<rect x="362" y="514.0" width="1" height="70.0" fill="#c0c0c0"/>
<rect x="370" y="516.0" width="1" height="68.0" fill="#c0c0c0"/>
<rect x="378" y="521.0" width="1" height="63.0" fill="#c0c0c0"/>
<rect x="386" y="523.0" width="1" height="61.0" fill="#c0c0c0"/>
<rect x="394" y="525.0" width="1" height="59.0" fill="#c0c0c0"/>
<rect x="402" y="528.0" width="1" height="56.0" fill="#c0c0c0"/>
<rect x="410" y="529.0" width="1" height="55.0" fill="#c0c0c0"/>
<rect x="418" y="531.0" width="1" height="53.0" fill="#c0c0c0"/>
<rect x="426" y="532.0" width="1" height="52.0" fill="#c0c0c0"/>
<rect x="434" y="533.0" width="1" height="51.0" fill="#c0c0c0"/>
<rect x="442" y="534.0" width="1" height="50.0" fill="#c0c0c0"/>
<rect x="450" y="533.0" width="1" height="51.0" fill="#c0c0c0"/>
<rect x="458" y="537.0" width="1" height="47.0" fill="#c0c0c0"/>
<rect x="466" y="541.0" width="1" height="43.0" fill="#c0c0c0"/>
<rect x="474" y="542.0" width="1" height="42.0" fill="#c0c0c0"/>
<rect x="482" y="545.0" width="1" height="39.0" fill="#c0c0c0"/>
<rect x="490" y="548.0" width="1" height="36.0" fill="#c0c0c0"/>
<rect x="498" y="551.0" width="1" height="33.0" fill="#c0c0c0"/>
<rect x="506" y="560.0" width="1" height="24.0" fill="#c0c0c0"/>
<rect x="514" y="565.0" width="1" height="19.0" fill="#c0c0c0"/>
<rect x="522" y="570.0" width="1" height="14.0" fill="#c0c0c0"/>
<rect x="530" y="566.0" width="1" height="18.0" fill="#c0c0c0"/>
<rect x="538" y="558.0" width="1" height="26.0" fill="#c0c0c0"/>
<rect x="546" y="557.0" width="1" height="27.0" fill="#c0c0c0"/>
<rect x="554" y="549.0" width="1" height="35.0" fill="#c0c0c0"/>
<rect x="562" y="545.0" width="1" height="39.0" fill="#c0c0c0"/>
<rect x="570" y="542.0" width="1" height="42.0" fill="#c0c0c0"/>
<rect x="578" y="544.0" width="1" height="40.0" fill="#c0c0c0"/>
<rect x="586" y="547.0" width="1" height="37.0" fill="#c0c0c0"/>
<rect x="594" y="551.0" width="1" height="33.0" fill="#c0c0c0"/>
<rect x="602" y="555.0" width="1" height="29.0" fill="#c0c0c0"/>
<rect x="610" y="557.0" width="1" height="27.0" fill="#c0c0c0"/>
<rect x="618" y="556.0" width="1" height="28.0" fill="#c0c0c0"/>
<rect x="626" y="553.0" width="1" height="31.0" fill="#c0c0c0"/>
<rect x="634" y="553.0" width="1" height="31.0" fill="#c0c0c0"/>
<rect x="642" y="554.0" width="1" height="30.0" fill="#c0c0c0"/>
<rect x="650" y="557.0" width="1" height="27.0" fill="#c0c0c0"/>
<rect x="658" y="555.0" width="1" height="29.0" fill="#c0c0c0"/>
<rect x="666" y="554.0" width="1" height="30.0" fill="#c0c0c0"/>
<rect x="674" y="552.0" width="1" height="32.0" fill="#c0c0c0"/>
<rect x="682" y="552.0" width="1" height="32.0" fill="#c0c0c0"/>
<rect x="690" y="553.0" width="1" height="31.0" fill="#c0c0c0"/>
<rect x="698" y="553.0" width="1" height="31.0" fill="#c0c0c0"/>
<rect x="706" y="551.0" width="1" height="33.0" fill="#c0c0c0"/>
<rect x="714" y="547.0" width="1" height="37.0" fill="#c0c0c0"/>
<rect x="722" y="547.0" width="1" height="37.0" fill="#c0c0c0"/>
<rect x="730" y="545.0" width="1" height="39.0" fill="#c0c0c0"/>
<rect x="738" y="547.0" width="1" height="37.0" fill="#c0c0c0"/>
<rect x="746" y="548.0" width="1" height="36.0" fill="#c0c0c0"/>
<rect x="754" y="549.0" width="1" height="35.0" fill="#c0c0c0"/>
<rect x="762" y="549.0" width="1" height="35.0" fill="#c0c0c0"/>
<rect x="770" y="547.0" width="1" height="37.0" fill="#c0c0c0"/>
<rect x="778" y="544.0" width="1" height="40.0" fill="#c0c0c0"/>
<rect x="786" y="539.0" width="1" height="45.0" fill="#c0c0c0"/>
<rect x="794" y="534.0" width="1" height="50.0" fill="#c0c0c0"/>
<rect x="802" y="528.0" width="1" height="56.0" fill="#c0c0c0"/>
<rect x="810" y="526.0" width="1" height="58.0" fill="#c0c0c0"/>
<rect x="818" y="526.0" width="1" height="58.0" fill="#c0c0c0"/>
<rect x="826" y="522.0" width="1" height="62.0" fill="#c0c0c0"/>
<rect x="834" y="527.0" width="1" height="57.0" fill="#c0c0c0"/>
<rect x="842" y="532.0" width="1" height="52.0" fill="#c0c0c0"/>
<rect x="850" y="536.0" width="1" height="48.0" fill="#c0c0c0"/>
<rect x="858" y="538.0" width="1" height="46.0" fill="#c0c0c0"/>
<rect x="866" y="540.0" width="1" height="44.0" fill="#c0c0c0"/>
<rect x="874" y="556.0" width="1" height="28.0" fill="#c0c0c0"/>
<rect x="882" y="564.0" width="1" height="20.0" fill="#c0c0c0"/>
<rect x="890" y="571.0" width="1" height="13.0" fill="#c0c0c0"/>
<rect x="898" y="582.0" width="1" height="2.0" fill="#c0c0c0"/>
<rect x="906" y="583" width="1" height="5.0" fill="#c0c0c0"/>
<rect x="914" y="583" width="1" height="10.0" fill="#c0c0c0"/>
<rect x="922" y="583" width="1" height="6.0" fill="#c0c0c0"/>
<rect x="930" y="583" width="1" height="4.0" fill="#c0c0c0"/>
<rect x="938" y="583" width="1" height="4.0" fill="#c0c0c0"/>
<rect x="946" y="583.0" width="1" height="1.0" fill="#c0c0c0"/>
<rect x="954" y="580.0" width="1" height="4.0" fill="#c0c0c0"/>
<rect x="962" y="577.0" width="1" height="7.0" fill="#c0c0c0"/>
<rect x="970" y="577.0" width="1" height="7.0" fill="#c0c0c0"/>
<rect x="978" y="568.0" width="1" height="16.0" fill="#c0c0c0"/>
<rect x="986" y="559.0" width="1" height="25.0" fill="#c0c0c0"/>
<rect x="994" y="553.0" width="1" height="31.0" fill="#c0c0c0"/>
<rect x="1002" y="546.0" width="1" height="38.0" fill="#c0c0c0"/>
<rect x="1010" y="545.0" width="1" height="39.0" fill="#c0c0c0"/>
<rect x="1018" y="546.0" width="1" height="38.0" fill="#c0c0c0"/>
<rect x="1026" y="545.0" width="1" height="39.0" fill="#c0c0c0"/>
<rect x="1034" y="544.0" width="1" height="40.0" fill="#c0c0c0"/>
<rect x="1042" y="544.0" width="1" height="40.0" fill="#c0c0c0"/>
<rect x="1050" y="540.0" width="1" height="44.0" fill="#c0c0c0"/>
<rect x="1058" y="537.0" width="1" height="47.0" fill="#c0c0c0"/>
<rect x="1066" y="535.0" width="1" height="49.0" fill="#c0c0c0"/>
<rect x="1074" y="532.0" width="1" height="52.0" fill="#c0c0c0"/>
<rect x="1082" y="533.0" width="1" height="51.0" fill="#c0c0c0"/>
<rect x="1090" y="533.0" width="1" height="51.0" fill="#c0c0c0"/>
<rect x="1098" y="535.0" width="1" height="49.0" fill="#c0c0c0"/>
<rect x="1106" y="536.0" width="1" height="48.0" fill="#c0c0c0"/>
<rect x="1114" y="540.0" width="1" height="44.0" fill="#c0c0c0"/>
<rect x="1122" y="541.0" width="1" height="43.0" fill="#c0c0c0"/>
<rect x="1130" y="541.0" width="1" height="43.0" fill="#c0c0c0"/>
<rect x="1138" y="547.0" width="1" height="37.0" fill="#c0c0c0"/>
<rect x="1146" y="551.0" width="1" height="33.0" fill="#c0c0c0"/>
<rect x="1154" y="557.0" width="1" height="27.0" fill="#c0c0c0"/>
<rect x="1162" y="558.0" width="1" height="26.0" fill="#c0c0c0"/>
<rect x="1170" y="559.0" width="1" height="25.0" fill="#c0c0c0"/>
<rect x="1178" y="559.0" width="1" height="25.0" fill="#c0c0c0"/>
<rect x="1186" y="558.0" width="1" height="26.0" fill="#c0c0c0"/>
<rect x="1194" y="560.0" width="1" height="24.0" fill="#c0c0c0"/>
<rect x="1202" y="562.0" width="1" height="22.0" fill="#c0c0c0"/>
<rect x="1210" y="564.0" width="1" height="20.0" fill="#c0c0c0"/>
<rect x="1218" y="573.0" width="1" height="11.0" fill="#c0c0c0"/>
<rect x="1226" y="582.0" width="1" height="2.0" fill="#c0c0c0"/>
<rect x="1234" y="583" width="1" height="6.0" fill="#c0c0c0"/>
<rect x="1242" y="583" width="1" height="14.0" fill="#c0c0c0"/>
<rect x="1250" y="583" width="1" height="17.0" fill="#c0c0c0"/>
<rect x="1258" y="583" width="1" height="18.0" fill="#c0c0c0"/>
<rect x="1266" y="583" width="1" height="17.0" fill="#c0c0c0"/>
<rect x="1274" y="583" width="1" height="14.0" fill="#c0c0c0"/>
<rect x="1282" y="583" width="1" height="13.0" fill="#c0c0c0"/>
<rect x="1290" y="583" width="1" height="11.0" fill="#c0c0c0"/>
<rect x="1298" y="583" width="1" height="14.0" fill="#c0c0c0"/>
<rect x="1306" y="583" width="1" height="8.0" fill="#c0c0c0"/>
<rect x="1314" y="583" width="1" height="8.0" fill="#c0c0c0"/>
<rect x="1322" y="583" width="1" height="7.0" fill="#c0c0c0"/>
<rect x="1330" y="583" width="1" height="6.0" fill="#c0c0c0"/>
<rect x="1338" y="583" width="1" height="4.0" fill="#c0c0c0"/>
<rect x="1346" y="583" width="1" height="1.0" fill="#c0c0c0"/>
<rect x="1354" y="570.0" width="1" height="14.0" fill="#c0c0c0"/>
<rect x="1362" y="565.0" width="1" height="19.0" fill="#c0c0c0"/>
<rect x="1370" y="563.0" width="1" height="21.0" fill="#c0c0c0"/>
<rect x="1378" y="561.0" width="1" height="23.0" fill="#c0c0c0"/>
<rect x="1386" y="557.0" width="1" height="27.0" fill="#c0c0c0"/>
<rect x="1394" y="555.0" width="1" height="29.0" fill="#c0c0c0"/>
<rect x="1402" y="557.0" width="1" height="27.0" fill="#c0c0c0"/>
<rect x="1410" y="554.0" width="1" height="30.0" fill="#c0c0c0"/>
<rect x="1418" y="550.0" width="1" height="34.0" fill="#c0c0c0"/>
<rect x="1426" y="548.0" width="1" height="36.0" fill="#c0c0c0"/>
<rect x="1434" y="547.0" width="1" height="37.0" fill="#c0c0c0"/>
<rect x="1442" y="547.0" width="1" height="37.0" fill="#c0c0c0"/>
<rect x="1450" y="546.0" width="1" height="38.0" fill="#c0c0c0"/>
<rect x="1458" y="545.0" width="1" height="39.0" fill="#c0c0c0"/>
<rect x="1466" y="539.0" width="1" height="45.0" fill="#c0c0c0"/>
<rect x="1474" y="535.0" width="1" height="49.0" fill="#c0c0c0"/>
<rect x="1482" y="528.0" width="1" height="56.0" fill="#c0c0c0"/>
<rect x="1490" y="521.0" width="1" height="63.0" fill="#c0c0c0"/>
<rect x="1498" y="523.0" width="1" height="61.0" fill="#c0c0c0"/>
<rect x="1506" y="545.0" width="1" height="39.0" fill="#c0c0c0"/>
<rect x="1514" y="560.0" width="1" height="24.0" fill="#c0c0c0"/>
<rect x="1522" y="572.0" width="1" height="12.0" fill="#c0c0c0"/>
<rect x="1530" y="583.0" width="1" height="1.0" fill="#c0c0c0"/>
<rect x="1538" y="583" width="1" height="7.0" fill="#c0c0c0"/>
<rect x="1546" y="583" width="1" height="6.0" fill="#c0c0c0"/>
<rect x="1554" y="583" width="1" height="28.0" fill="#c0c0c0"/>
<rect x="1562" y="583" width="1" height="43.0" fill="#c0c0c0"/>
<rect x="1570" y="583" width="1" height="53.0" fill="#c0c0c0"/>
<rect x="1578" y="583" width="1" height="59.0" fill="#c0c0c0"/>
<rect x="1586" y="583" width="1" height="70.0" fill="#c0c0c0"/>
<rect x="1594" y="583" width="1" height="75.0" fill="#c0c0c0"/>
<rect x="1602" y="583" width="1" height="72.0" fill="#c0c0c0"/>
<rect x="1610" y="583" width="1" height="64.0" fill="#c0c0c0"/>
<rect x="1618" y="583" width="1" height="56.0" fill="#c0c0c0"/>
<rect x="1626" y="583" width="1" height="52.0" fill="#c0c0c0"/>
<rect x="1634" y="583" width="1" height="45.0" fill="#c0c0c0"/>
<rect x="1642" y="583" width="1" height="36.0" fill="#c0c0c0"/>
<rect x="1650" y="583" width="1" height="23.0" fill="#c0c0c0"/>
<rect x="1658" y="583" width="1" height="12.0" fill="#c0c0c0"/>
<rect x="1666" y="583" width="1" height="2.0" fill="#c0c0c0"/>
<path d="M384 518.5h3M390 518.5h3M396 518.5h3M367 519.5h2M372 519.5h3M378 519.5h3M402 519.5h3M361 520.5h2M366 520.5h1M408 520.5h3M414 520.5h1M360 521.5h1M415 521.5h2M420 521.5h1M354 522.5h3M421 522.5h2M343 523.5h2M348 523.5h3M426 523.5h3M337 524.5h2M342 524.5h1M432 524.5h1M336 525.5h1M433 525.5h2M330 526.5h3M438 526.5h3M444 527.5h1M324 528.5h3M445 528.5h2M450 529.5h3M847 529.5h2M852 529.5h3M858 529.5h3M319 530.5h2M456 530.5h3M841 530.5h2M846 530.5h1M864 530.5h3M318 531.5h1M462 531.5h3M840 531.5h1M870 531.5h1M313 532.5h2M468 532.5h1M834 532.5h3M871 532.5h2M312 533.5h1M469 533.5h2M829 533.5h2M306 534.5h3M474 534.5h3M828 534.5h1M876 534.5h2M301 535.5h2M480 535.5h3M823 535.5h2M878 535.5h1M1104 535.5h3M1110 535.5h3M1116 535.5h3M1122 535.5h3M1128 535.5h3M300 536.5h1M486 536.5h3M822 536.5h1M1098 536.5h3M1134 536.5h3M1500 536.5h3M1506 536.5h3M295 537.5h2M492 537.5h1M817 537.5h2M882 537.5h1M1092 537.5h3M1140 537.5h1M1495 537.5h2M1512 537.5h3M294 538.5h1M493 538.5h2M816 538.5h1M883 538.5h2M1086 538.5h3M1141 538.5h2M1494 538.5h1M1518 538.5h1M289 539.5h2M498 539.5h2M810 539.5h3M1080 539.5h3M1146 539.5h3M1489 539.5h2M1519 539.5h2M288 540.5h1M500 540.5h1M1074 540.5h3M1152 540.5h1M1488 540.5h1M282 541.5h3M504 541.5h1M804 541.5h3M888 541.5h2M1068 541.5h3M1153 541.5h2M1484 541.5h1M1524 541.5h2M210 542.5h3M505 542.5h2M890 542.5h1M1062 542.5h3M1158 542.5h1M1482 542.5h2M1526 542.5h1M199 543.5h2M204 543.5h3M216 543.5h3M222 543.5h3M228 543.5h3M234 543.5h3M276 543.5h3M798 543.5h3M1057 543.5h2M1159 543.5h2M114 544.5h3M120 544.5h3M126 544.5h1M192 544.5h3M198 544.5h1M240 544.5h3M246 544.5h1M510 544.5h2M792 544.5h3M1056 544.5h1M1476 544.5h3M1530 544.5h1M103 545.5h2M108 545.5h3M127 545.5h2M132 545.5h3M186 545.5h3M247 545.5h2M252 545.5h3M270 545.5h3M512 545.5h1M786 545.5h3M894 545.5h1M1052 545.5h1M1164 545.5h3M1531 545.5h2M97 546.5h2M102 546.5h1M138 546.5h3M144 546.5h3M150 546.5h1M162 546.5h3M168 546.5h3M174 546.5h3M180 546.5h3M258 546.5h3M264 546.5h3M775 546.5h2M780 546.5h3M895 546.5h1M1050 546.5h2M1470 546.5h3M96 547.5h1M151 547.5h2M156 547.5h3M516 547.5h2M762 547.5h3M768 547.5h3M774 547.5h1M896 547.5h1M1170 547.5h3M1465 547.5h2M90 548.5h3M518 548.5h1M744 548.5h3M750 548.5h3M756 548.5h3M1044 548.5h3M1176 548.5h1M1464 548.5h1M1536 548.5h1M600 549.5h3M606 549.5h3M612 549.5h3M618 549.5h3M624 549.5h3M630 549.5h1M732 549.5h3M738 549.5h3M1177 549.5h2M1458 549.5h3M1537 549.5h1M86 550.5h1M522 550.5h2M594 550.5h3M631 550.5h2M636 550.5h3M726 550.5h3M900 550.5h1M1040 550.5h1M1182 550.5h3M1452 550.5h3M1538 550.5h1M84 551.5h2M524 551.5h1M589 551.5h2M642 551.5h3M720 551.5h3M901 551.5h1M1038 551.5h2M1188 551.5h1M1446 551.5h3M528 552.5h1M588 552.5h1M648 552.5h1M703 552.5h2M708 552.5h3M714 552.5h3M902 552.5h1M1189 552.5h2M1441 552.5h2M79 553.5h2M529 553.5h2M582 553.5h3M649 553.5h2M654 553.5h1M679 553.5h2M684 553.5h3M690 553.5h3M696 553.5h3M702 553.5h1M1033 553.5h2M1194 553.5h2M1440 553.5h1M1542 553.5h1M78 554.5h1M534 554.5h3M577 554.5h2M655 554.5h2M660 554.5h3M666 554.5h3M672 554.5h3M678 554.5h1M1032 554.5h1M1196 554.5h1M1434 554.5h3M1543 554.5h2M74 555.5h1M540 555.5h1M576 555.5h1M906 555.5h1M1028 555.5h1M1200 555.5h1M1429 555.5h2M73 556.5h1M541 556.5h2M570 556.5h3M907 556.5h1M1026 556.5h2M1201 556.5h2M1428 556.5h1M72 557.5h1M546 557.5h3M552 557.5h3M558 557.5h3M564 557.5h3M908 557.5h1M1206 557.5h3M1422 557.5h3M1022 558.5h1M1212 558.5h1M1418 558.5h1M1548 558.5h1M1020 559.5h2M1213 559.5h2M1416 559.5h2M1549 559.5h1M67 560.5h2M912 560.5h1M1218 560.5h2M1550 560.5h1M66 561.5h1M913 561.5h1M1016 561.5h1M1220 561.5h1M1412 561.5h1M914 562.5h1M1014 562.5h2M1224 562.5h1M1410 562.5h2M1225 563.5h2M1010 564.5h1M1230 564.5h1M1406 564.5h1M1553 564.5h1M61 565.5h2M918 565.5h1M1008 565.5h2M1231 565.5h2M1404 565.5h2M1554 565.5h1M60 566.5h1M919 566.5h2M1555 566.5h1M1236 567.5h1M1399 567.5h2M1003 568.5h2M1237 568.5h2M1398 568.5h1M924 569.5h1M1002 569.5h1M1394 569.5h1M56 570.5h1M925 570.5h1M1392 570.5h2M1557 570.5h1M55 571.5h1M926 571.5h1M1242 571.5h2M1558 571.5h1M54 572.5h1M997 572.5h2M1244 572.5h1M1388 572.5h1M1559 572.5h1M996 573.5h1M1386 573.5h2M930 574.5h1M1248 574.5h2M931 575.5h2M992 575.5h1M1250 575.5h1M1382 575.5h1M50 576.5h1M990 576.5h2M1380 576.5h2M1561 576.5h1M49 577.5h1M1254 577.5h1M1562 577.5h1M48 578.5h1M936 578.5h2M986 578.5h1M1255 578.5h1M1376 578.5h1M1563 578.5h1M938 579.5h1M984 579.5h2M1256 579.5h1M1374 579.5h2M942 580.5h1M943 581.5h2M980 581.5h1M1260 581.5h1M1370 581.5h1M44 582.5h1M948 582.5h1M978 582.5h2M1261 582.5h2M1368 582.5h2M1565 582.5h1M43 583.5h1M949 583.5h2M973 583.5h2M1566 583.5h1M42 584.5h1M954 584.5h3M967 584.5h2M972 584.5h1M1364 584.5h1M1566 584.5h1M960 585.5h3M966 585.5h1M1266 585.5h2M1362 585.5h2M1268 586.5h1M1356 587.5h3M38 588.5h1M1272 588.5h2M1569 588.5h1M38 589.5h1M1274 589.5h1M1351 589.5h2M1569 589.5h1M37 590.5h1M1350 590.5h1M1570 590.5h1M1278 591.5h2M1344 591.5h3M1280 592.5h1M1338 592.5h3M1284 593.5h1M1333 593.5h2M33 594.5h1M1285 594.5h2M1327 594.5h2M1332 594.5h1M1573 594.5h1M32 595.5h1M1290 595.5h3M1320 595.5h3M1326 595.5h1M1574 595.5h1M32 596.5h1M1296 596.5h1M1314 596.5h3M1574 596.5h1M1297 597.5h2M1302 597.5h3M1308 597.5h3M28 600.5h1M1577 600.5h1M28 601.5h1M1578 601.5h1M27 602.5h1M1579 602.5h1M23 606.5h1M1582 606.5h1M22 607.5h1M1583 607.5h1M22 608.5h1M1584 608.5h1M18 612.5h1M1587 612.5h1M17 613.5h1M1588 613.5h1M16 614.5h1M1588 614.5h1M13 618.5h1M1592 618.5h1M12 619.5h1M1592 619.5h1M12 620.5h1M1593 620.5h1M8 624.5h1M1597 624.5h1M1665 624.5h1M8 625.5h1M1598 625.5h1M1664 625.5h1M7 626.5h1M1599 626.5h1M1663 626.5h1M4 630.5h1M1603 630.5h2M1659 630.5h1M3 631.5h1M1605 631.5h1M1658 631.5h1M2 632.5h1M1657 632.5h1M1609 634.5h1M1610 635.5h1M1653 635.5h1M1611 636.5h1M1652 636.5h1M1651 637.5h1M1615 639.5h2M1617 640.5h1M1646 640.5h2M1645 641.5h1M1621 642.5h3M1641 642.5h1M1627 643.5h3M1639 643.5h2M1633 644.5h3" fill="none" stroke="#ff0000" stroke-width="1"/>
<path d="M3 714.5h3M9 714.5h3M15 714.5h3M21 714.5h3M27 714.5h3M33 714.5h3M39 714.5h3M45 714.5h3M51 714.5h3M57 714.5h3M63 714.5h3M69 714.5h3M75 714.5h3M81 714.5h3M87 714.5h3M93 714.5h3M99 714.5h3M105 714.5h3M111 714.5h3M117 714.5h3M123 714.5h3M129 714.5h3M135 714.5h3M141 714.5h3M147 714.5h3M153 714.5h3M159 714.5h3M165 714.5h3M171 714.5h3M177 714.5h3M183 714.5h3M189 714.5h3M195 714.5h3M201 714.5h3M207 714.5h3M213 714.5h3M219 714.5h3M225 714.5h3M231 714.5h3M237 714.5h3M243 714.5h3M249 714.5h3M255 714.5h3M261 714.5h3M267 714.5h3M273 714.5h3M279 714.5h3M285 714.5h3M291 714.5h3M297 714.5h3M303 714.5h3M309 714.5h3M315 714.5h3M321 714.5h3M327 714.5h3M333 714.5h3M339 714.5h3M345 714.5h3M351 714.5h3M357 714.5h3M363 714.5h3M369 714.5h3M375 714.5h3M381 714.5h3M387 714.5h3M393 714.5h3M399 714.5h3M405 714.5h3M411 714.5h3M417 714.5h3M423 714.5h3M429 714.5h3M435 714.5h3M441 714.5h3M447 714.5h3M453 714.5h3M459 714.5h3M465 714.5h3M471 714.5h3M477 714.5h3M483 714.5h3M489 714.5h3M495 714.5h3M501 714.5h3M507 714.5h3M513 714.5h3M519 714.5h3M525 714.5h3M531 714.5h3M537 714.5h3M543 714.5h3M549 714.5h3M555 714.5h3M561 714.5h3M567 714.5h3M573 714.5h3M579 714.5h3M585 714.5h3M591 714.5h3M597 714.5h3M603 714.5h3M609 714.5h3M615 714.5h3M621 714.5h3M627 714.5h3M633 714.5h3M639 714.5h3M645 714.5h3M651 714.5h3M657 714.5h3M663 714.5h3M669 714.5h3M675 714.5h3M681 714.5h3M687 714.5h3M693 714.5h3M699 714.5h3M705 714.5h3M711 714.5h3M717 714.5h3M723 714.5h3M729 714.5h3M735 714.5h3M741 714.5h3M747 714.5h3M753 714.5h3M759 714.5h3M765 714.5h3M771 714.5h3M777 714.5h3M783 714.5h3M789 714.5h3M795 714.5h3M801 714.5h3M807 714.5h3M813 714.5h3M819 714.5h3M825 714.5h3M831 714.5h3M837 714.5h3M843 714.5h3M849 714.5h3M855 714.5h3M861 714.5h3M867 714.5h3M873 714.5h3M879 714.5h3M885 714.5h3M891 714.5h3M897 714.5h3M903 714.5h3M909 714.5h3M915 714.5h3M921 714.5h3M927 714.5h3M933 714.5h3M939 714.5h3M945 714.5h3M951 714.5h3M957 714.5h3M963 714.5h3M969 714.5h3M975 714.5h3M981 714.5h3M987 714.5h3M993 714.5h3M999 714.5h3M1005 714.5h3M1011 714.5h3M1017 714.5h3M1023 714.5h3M1029 714.5h3M1035 714.5h3M1041 714.5h3M1047 714.5h3M1053 714.5h3M1059 714.5h3M1065 714.5h3M1071 714.5h3M1077 714.5h3M1083 714.5h3M1089 714.5h3M1095 714.5h3M1101 714.5h3M1107 714.5h3M1113 714.5h3M1119 714.5h3M1125 714.5h3M1131 714.5h3M1137 714.5h3M1143 714.5h3M1149 714.5h3M1155 714.5h3M1161 714.5h3M1167 714.5h3M1173 714.5h3M1179 714.5h3M1185 714.5h3M1191 714.5h3M1197 714.5h3M1203 714.5h3M1209 714.5h3M1215 714.5h3M1221 714.5h3M1227 714.5h3M1233 714.5h3M1239 714.5h3M1245 714.5h3M1251 714.5h3M1257 714.5h3M1263 714.5h3M1269 714.5h3M1275 714.5h3M1281 714.5h3M1287 714.5h3M1293 714.5h3M1299 714.5h3M1305 714.5h3M1311 714.5h3M1317 714.5h3M1323 714.5h3M1329 714.5h3M1335 714.5h3M1341 714.5h3M1347 714.5h3M1353 714.5h3M1359 714.5h3M1365 714.5h3M1371 714.5h3M1377 714.5h3M1383 714.5h3M1389 714.5h3M1395 714.5h3M1401 714.5h3M1407 714.5h3M1413 714.5h3M1419 714.5h3M1425 714.5h3M1431 714.5h3M1437 714.5h3M1443 714.5h3M1449 714.5h3M1455 714.5h3M1461 714.5h3M1467 714.5h3M1473 714.5h3M1479 714.5h3M1485 714.5h3M1491 714.5h3M1497 714.5h3M1503 714.5h3M1509 714.5h3M1515 714.5h3M1521 714.5h3M1527 714.5h3M1533 714.5h3M1539 714.5h3M1545 714.5h3M1551 714.5h3M1557 714.5h3M1563 714.5h3M1569 714.5h3M1575 714.5h3M1581 714.5h3M1587 714.5h3M1593 714.5h3M1599 714.5h3M1605 714.5h3M1611 714.5h3M1617 714.5h3M1623 714.5h3M1629 714.5h3M1635 714.5h3M1641 714.5h3M1647 714.5h3M1653 714.5h3M1659 714.5h3M1665 714.5h3M1671 714.5h3M1677 714.5h3M1683 714.5h3" fill="none" stroke="#c0c0c0" stroke-width="1"/>
<path d="M3 772.5h3M9 772.5h3M15 772.5h3M21 772.5h3M27 772.5h3M33 772.5h3M39 772.5h3M45 772.5h3M51 772.5h3M57 772.5h3M63 772.5h3M69 772.5h3M75 772.5h3M81 772.5h3M87 772.5h3M93 772.5h3M99 772.5h3M105 772.5h3M111 772.5h3M117 772.5h3M123 772.5h3M129 772.5h3M135 772.5h3M141 772.5h3M147 772.5h3M153 772.5h3M159 772.5h3M165 772.5h3M171 772.5h3M177 772.5h3M183 772.5h3M189 772.5h3M195 772.5h3M201 772.5h3M207 772.5h3M213 772.5h3M219 772.5h3M225 772.5h3M231 772.5h3M237 772.5h3M243 772.5h3M249 772.5h3M255 772.5h3M261 772.5h3M267 772.5h3M273 772.5h3M279 772.5h3M285 772.5h3M291 772.5h3M297 772.5h3M303 772.5h3M309 772.5h3M315 772.5h3M321 772.5h3M327 772.5h3M333 772.5h3M339 772.5h3M345 772.5h3M351 772.5h3M357 772.5h3M363 772.5h3M369 772.5h3M375 772.5h3M381 772.5h3M387 772.5h3M393 772.5h3M399 772.5h3M405 772.5h3M411 772.5h3M417 772.5h3M423 772.5h3M429 772.5h3M435 772.5h3M441 772.5h3M447 772.5h3M453 772.5h3M459 772.5h3M465 772.5h3M471 772.5h3M477 772.5h3M483 772.5h3M489 772.5h3M495 772.5h3M501 772.5h3M507 772.5h3M513 772.5h3M519 772.5h3M525 772.5h3M531 772.5h3M537 772.5h3M543 772.5h3M549 772.5h3M555 772.5h3M561 772.5h3M567 772.5h3M573 772.5h3M579 772.5h3M585 772.5h3M591 772.5h3M597 772.5h3M603 772.5h3M609 772.5h3M615 772.5h3M621 772.5h3M627 772.5h3M633 772.5h3M639 772.5h3M645 772.5h3M651 772.5h3M657 772.5h3M663 772.5h3M669 772.5h3M675 772.5h3M681 772.5h3M687 772.5h3M693 772.5h3M699 772.5h3M705 772.5h3M711 772.5h3M717 772.5h3M723 772.5h3M729 772.5h3M735 772.5h3M741 772.5h3M747 772.5h3M753 772.5h3M759 772.5h3M765 772.5h3M771 772.5h3M777 772.5h3M783 772.5h3M789 772.5h3M795 772.5h3M801 772.5h3M807 772.5h3M813 772.5h3M819 772.5h3M825 772.5h3M831 772.5h3M837 772.5h3M843 772.5h3M849 772.5h3M855 772.5h3M861 772.5h3M867 772.5h3M873 772.5h3M879 772.5h3M885 772.5h3M891 772.5h3M897 772.5h3M903 772.5h3M909 772.5h3M915 772.5h3M921 772.5h3M927 772.5h3M933 772.5h3M939 772.5h3M945 772.5h3M951 772.5h3M957 772.5h3M963 772.5h3M969 772.5h3M975 772.5h3M981 772.5h3M987 772.5h3M993 772.5h3M999 772.5h3M1005 772.5h3M1011 772.5h3M1017 772.5h3M1023 772.5h3M1029 772.5h3M1035 772.5h3M1041 772.5h3M1047 772.5h3M1053 772.5h3M1059 772.5h3M1065 772.5h3M1071 772.5h3M1077 772.5h3M1083 772.5h3M1089 772.5h3M1095 772.5h3M1101 772.5h3M1107 772.5h3M1113 772.5h3M1119 772.5h3M1125 772.5h3M1131 772.5h3M1137 772.5h3M1143 772.5h3M1149 772.5h3M1155 772.5h3M1161 772.5h3M1167 772.5h3M1173 772.5h3M1179 772.5h3M1185 772.5h3M1191 772.5h3M1197 772.5h3M1203 772.5h3M1209 772.5h3M1215 772.5h3M1221 772.5h3M1227 772.5h3M1233 772.5h3M1239 772.5h3M1245 772.5h3M1251 772.5h3M1257 772.5h3M1263 772.5h3M1269 772.5h3M1275 772.5h3M1281 772.5h3M1287 772.5h3M1293 772.5h3M1299 772.5h3M1305 772.5h3M1311 772.5h3M1317 772.5h3M1323 772.5h3M1329 772.5h3M1335 772.5h3M1341 772.5h3M1347 772.5h3M1353 772.5h3M1359 772.5h3M1365 772.5h3M1371 772.5h3M1377 772.5h3M1383 772.5h3M1389 772.5h3M1395 772.5h3M1401 772.5h3M1407 772.5h3M1413 772.5h3M1419 772.5h3M1425 772.5h3M1431 772.5h3M1437 772.5h3M1443 772.5h3M1449 772.5h3M1455 772.5h3M1461 772.5h3M1467 772.5h3M1473 772.5h3M1479 772.5h3M1485 772.5h3M1491 772.5h3M1497 772.5h3M1503 772.5h3M1509 772.5h3M1515 772.5h3M1521 772.5h3M1527 772.5h3M1533 772.5h3M1539 772.5h3M1545 772.5h3M1551 772.5h3M1557 772.5h3M1563 772.5h3M1569 772.5h3M1575 772.5h3M1581 772.5h3M1587 772.5h3M1593 772.5h3M1599 772.5h3M1605 772.5h3M1611 772.5h3M1617 772.5h3M1623 772.5h3M1629 772.5h3M1635 772.5h3M1641 772.5h3M1647 772.5h3M1653 772.5h3M1659 772.5h3M1665 772.5h3M1671 772.5h3M1677 772.5h3M1683 772.5h3" fill="none" stroke="#c0c0c0" stroke-width="1"/>
<path d="M802 705.5h1M1489 705.5h2M801 706.5h1M803 706.5h1M1487 706.5h2M1490 706.5h1M799 707.5h2M803 707.5h1M1484 707.5h3M1491 707.5h1M798 708.5h1M804 708.5h1M1482 708.5h2M1491 708.5h1M354 709.5h1M797 709.5h1M805 709.5h1M1480 709.5h2M1491 709.5h1M353 710.5h1M355 710.5h1M795 710.5h2M806 710.5h1M826 710.5h1M1479 710.5h1M1492 710.5h1M273 711.5h2M352 711.5h1M356 711.5h1M791 711.5h4M806 711.5h1M825 711.5h2M1477 711.5h2M1492 711.5h1M269 712.5h4M275 712.5h1M351 712.5h1M357 712.5h2M786 712.5h5M807 712.5h1M824 712.5h1M827 712.5h1M1475 712.5h2M1493 712.5h1M266 713.5h3M275 713.5h1M350 713.5h1M359 713.5h1M785 713.5h1M808 713.5h1M823 713.5h1M827 713.5h1M1473 713.5h2M1493 713.5h1M265 714.5h1M276 714.5h1M337 714.5h3M349 714.5h1M360 714.5h1M784 714.5h1M809 714.5h1M821 714.5h2M828 714.5h1M1469 714.5h4M1493 714.5h1M263 715.5h2M276 715.5h1M333 715.5h4M340 715.5h3M348 715.5h1M361 715.5h1M783 715.5h1M809 715.5h1M820 715.5h1M828 715.5h1M1466 715.5h3M1494 715.5h1M262 716.5h1M277 716.5h1M322 716.5h11M343 716.5h2M347 716.5h1M362 716.5h1M770 716.5h1M782 716.5h1M810 716.5h5M819 716.5h1M828 716.5h1M1354 716.5h1M1465 716.5h1M1494 716.5h1M261 717.5h1M278 717.5h1M321 717.5h1M345 717.5h2M363 717.5h1M450 717.5h1M769 717.5h1M771 717.5h2M782 717.5h1M815 717.5h4M829 717.5h1M1353 717.5h1M1355 717.5h1M1464 717.5h1M1494 717.5h1M259 718.5h2M278 718.5h1M319 718.5h2M364 718.5h1M448 718.5h2M451 718.5h1M714 718.5h1M768 718.5h1M773 718.5h2M781 718.5h1M829 718.5h1M1353 718.5h1M1355 718.5h1M1463 718.5h1M1495 718.5h1M258 719.5h1M279 719.5h1M318 719.5h1M365 719.5h1M447 719.5h1M451 719.5h1M554 719.5h2M713 719.5h1M715 719.5h1M767 719.5h1M775 719.5h1M780 719.5h1M829 719.5h1M1352 719.5h1M1356 719.5h1M1461 719.5h2M1495 719.5h1M162 720.5h1M257 720.5h1M280 720.5h1M317 720.5h1M366 720.5h1M445 720.5h2M452 720.5h1M538 720.5h1M553 720.5h1M556 720.5h2M711 720.5h2M716 720.5h1M766 720.5h1M776 720.5h2M779 720.5h1M830 720.5h1M1073 720.5h2M1352 720.5h1M1356 720.5h1M1460 720.5h1M1495 720.5h1M160 721.5h2M163 721.5h1M257 721.5h1M280 721.5h1M295 721.5h5M315 721.5h2M367 721.5h1M443 721.5h2M452 721.5h1M537 721.5h1M539 721.5h1M552 721.5h1M558 721.5h2M569 721.5h2M710 721.5h1M717 721.5h2M766 721.5h1M778 721.5h1M830 721.5h1M1002 721.5h1M1069 721.5h4M1075 721.5h2M1351 721.5h1M1357 721.5h1M1459 721.5h1M1496 721.5h1M158 722.5h2M164 722.5h1M256 722.5h1M281 722.5h1M289 722.5h6M300 722.5h2M313 722.5h2M368 722.5h1M431 722.5h12M453 722.5h1M535 722.5h2M540 722.5h1M551 722.5h1M560 722.5h2M565 722.5h4M571 722.5h1M709 722.5h1M719 722.5h1M729 722.5h2M765 722.5h1M831 722.5h1M1000 722.5h2M1003 722.5h1M1063 722.5h6M1077 722.5h1M1351 722.5h1M1357 722.5h1M1458 722.5h1M1496 722.5h1M25 723.5h2M156 723.5h2M165 723.5h1M178 723.5h1M256 723.5h1M281 723.5h1M285 723.5h4M302 723.5h2M311 723.5h2M369 723.5h1M425 723.5h6M453 723.5h1M534 723.5h1M541 723.5h1M550 723.5h1M562 723.5h3M571 723.5h1M707 723.5h2M720 723.5h1M727 723.5h2M731 723.5h1M764 723.5h1M831 723.5h1M985 723.5h4M998 723.5h2M1004 723.5h1M1055 723.5h8M1078 723.5h1M1106 723.5h1M1350 723.5h1M1358 723.5h1M1456 723.5h2M1497 723.5h1M10 724.5h3M23 724.5h2M27 724.5h1M151 724.5h5M166 724.5h1M177 724.5h1M179 724.5h2M255 724.5h1M282 724.5h3M304 724.5h2M308 724.5h3M370 724.5h1M386 724.5h10M410 724.5h3M423 724.5h2M454 724.5h1M533 724.5h1M542 724.5h1M550 724.5h1M572 724.5h1M706 724.5h1M721 724.5h1M724 724.5h3M732 724.5h1M763 724.5h1M831 724.5h1M983 724.5h2M989 724.5h4M996 724.5h2M1004 724.5h1M1050 724.5h5M1079 724.5h2M1104 724.5h2M1107 724.5h1M1350 724.5h1M1359 724.5h1M1417 724.5h3M1454 724.5h2M1497 724.5h1M8 725.5h2M13 725.5h4M20 725.5h3M28 725.5h1M55 725.5h4M143 725.5h8M166 725.5h1M175 725.5h2M181 725.5h2M226 725.5h9M255 725.5h1M306 725.5h2M371 725.5h2M384 725.5h2M396 725.5h2M408 725.5h2M413 725.5h4M420 725.5h3M454 725.5h1M531 725.5h2M543 725.5h1M549 725.5h1M572 725.5h1M673 725.5h2M704 725.5h2M722 725.5h2M733 725.5h1M762 725.5h1M832 725.5h1M980 725.5h3M993 725.5h3M1005 725.5h1M1049 725.5h1M1081 725.5h1M1103 725.5h1M1107 725.5h1M1349 725.5h1M1359 725.5h1M1415 725.5h2M1420 725.5h3M1452 725.5h2M1497 725.5h1M6 726.5h2M17 726.5h3M29 726.5h2M49 726.5h6M59 726.5h2M138 726.5h5M167 726.5h1M174 726.5h1M183 726.5h1M225 726.5h1M235 726.5h1M254 726.5h1M373 726.5h2M383 726.5h1M398 726.5h2M406 726.5h2M417 726.5h3M455 726.5h1M530 726.5h1M544 726.5h1M548 726.5h1M573 726.5h1M671 726.5h2M675 726.5h2M702 726.5h2M734 726.5h1M760 726.5h2M832 726.5h1M978 726.5h2M1006 726.5h1M1048 726.5h1M1082 726.5h11M1101 726.5h2M1108 726.5h1M1349 726.5h1M1360 726.5h1M1412 726.5h3M1423 726.5h2M1449 726.5h3M1498 726.5h1M4 727.5h2M31 727.5h1M47 727.5h2M61 727.5h1M74 727.5h1M137 727.5h1M168 727.5h1M173 727.5h1M184 727.5h2M224 727.5h1M236 727.5h1M253 727.5h1M375 727.5h1M381 727.5h2M400 727.5h2M404 727.5h2M455 727.5h1M474 727.5h2M530 727.5h1M545 727.5h1M547 727.5h1M574 727.5h1M625 727.5h3M668 727.5h3M677 727.5h1M700 727.5h2M735 727.5h1M758 727.5h2M832 727.5h1M977 727.5h1M1007 727.5h1M1047 727.5h1M1093 727.5h4M1099 727.5h2M1108 727.5h1M1348 727.5h1M1360 727.5h1M1386 727.5h3M1410 727.5h2M1425 727.5h14M1445 727.5h4M1498 727.5h1M2 728.5h2M32 728.5h1M44 728.5h3M62 728.5h1M72 728.5h2M75 728.5h1M90 728.5h5M137 728.5h1M169 728.5h1M171 728.5h2M186 728.5h1M223 728.5h1M237 728.5h1M253 728.5h1M376 728.5h2M379 728.5h2M402 728.5h2M456 728.5h1M472 728.5h2M476 728.5h2M529 728.5h1M546 728.5h1M574 728.5h1M623 728.5h2M628 728.5h2M663 728.5h5M678 728.5h1M697 728.5h3M736 728.5h1M756 728.5h2M833 728.5h1M977 728.5h1M1008 728.5h1M1045 728.5h2M1097 728.5h2M1109 728.5h1M1129 728.5h2M1348 728.5h1M1361 728.5h1M1384 728.5h2M1389 728.5h4M1409 728.5h1M1439 728.5h6M1498 728.5h1M33 729.5h1M39 729.5h5M63 729.5h2M70 729.5h2M76 729.5h1M89 729.5h1M95 729.5h8M136 729.5h1M170 729.5h1M187 729.5h1M221 729.5h2M238 729.5h1M252 729.5h1M378 729.5h1M456 729.5h1M470 729.5h2M478 729.5h2M529 729.5h1M575 729.5h1M620 729.5h3M630 729.5h2M658 729.5h5M679 729.5h2M695 729.5h2M737 729.5h1M743 729.5h13M833 729.5h1M976 729.5h1M1008 729.5h1M1031 729.5h6M1044 729.5h1M1109 729.5h1M1125 729.5h4M1131 729.5h1M1347 729.5h1M1361 729.5h1M1382 729.5h2M1393 729.5h2M1408 729.5h1M1498 729.5h1M34 730.5h5M65 730.5h1M68 730.5h2M77 730.5h2M87 730.5h2M103 730.5h4M136 730.5h1M188 730.5h1M220 730.5h1M239 730.5h1M252 730.5h1M457 730.5h1M468 730.5h2M480 730.5h2M529 730.5h1M576 730.5h1M618 730.5h2M632 730.5h2M657 730.5h1M681 730.5h1M692 730.5h3M738 730.5h5M834 730.5h1M857 730.5h10M976 730.5h1M1009 730.5h1M1026 730.5h5M1037 730.5h4M1043 730.5h1M1110 730.5h1M1122 730.5h3M1131 730.5h1M1347 730.5h1M1362 730.5h3M1380 730.5h2M1395 730.5h1M1407 730.5h1M1499 730.5h1M66 731.5h2M79 731.5h1M86 731.5h1M107 731.5h1M135 731.5h1M189 731.5h2M219 731.5h1M240 731.5h1M251 731.5h1M457 731.5h1M463 731.5h5M482 731.5h3M528 731.5h1M576 731.5h1M617 731.5h1M634 731.5h5M656 731.5h1M682 731.5h10M834 731.5h2M853 731.5h4M866 731.5h1M975 731.5h1M1010 731.5h2M1024 731.5h2M1041 731.5h2M1111 731.5h1M1121 731.5h1M1132 731.5h1M1346 731.5h1M1365 731.5h4M1375 731.5h5M1396 731.5h1M1406 731.5h1M1499 731.5h1M80 732.5h1M85 732.5h1M108 732.5h1M135 732.5h1M191 732.5h1M218 732.5h1M241 732.5h1M251 732.5h1M458 732.5h5M485 732.5h4M528 732.5h1M577 732.5h1M616 732.5h1M639 732.5h4M655 732.5h1M836 732.5h3M849 732.5h4M867 732.5h1M975 732.5h1M1012 732.5h3M1022 732.5h2M1111 732.5h1M1120 732.5h1M1133 732.5h1M1185 732.5h2M1346 732.5h1M1369 732.5h6M1397 732.5h2M1406 732.5h1M1499 732.5h1M1655 732.5h11M81 733.5h1M83 733.5h2M109 733.5h2M134 733.5h1M192 733.5h1M216 733.5h2M242 733.5h9M489 733.5h6M527 733.5h1M577 733.5h1M615 733.5h1M643 733.5h2M654 733.5h1M839 733.5h2M845 733.5h4M867 733.5h1M974 733.5h1M1015 733.5h2M1020 733.5h2M1112 733.5h1M1119 733.5h1M1133 733.5h1M1183 733.5h2M1187 733.5h2M1345 733.5h1M1399 733.5h1M1405 733.5h1M1499 733.5h1M1650 733.5h5M82 734.5h1M111 734.5h1M134 734.5h1M193 734.5h1M214 734.5h2M495 734.5h4M527 734.5h1M578 734.5h3M613 734.5h2M645 734.5h1M654 734.5h1M841 734.5h4M867 734.5h1M974 734.5h1M1017 734.5h3M1112 734.5h1M1117 734.5h2M1134 734.5h1M1180 734.5h3M1189 734.5h2M1344 734.5h1M1400 734.5h1M1404 734.5h1M1500 734.5h1M1649 734.5h1M112 735.5h1M133 735.5h1M194 735.5h13M212 735.5h2M498 735.5h1M527 735.5h1M581 735.5h4M591 735.5h4M612 735.5h1M646 735.5h1M653 735.5h1M867 735.5h1M953 735.5h6M973 735.5h1M1113 735.5h1M1116 735.5h1M1135 735.5h1M1167 735.5h13M1191 735.5h1M1343 735.5h1M1401 735.5h1M1403 735.5h1M1500 735.5h1M1648 735.5h1M113 736.5h1M133 736.5h1M207 736.5h5M499 736.5h1M526 736.5h1M585 736.5h6M595 736.5h1M611 736.5h1M647 736.5h2M652 736.5h1M868 736.5h1M949 736.5h4M959 736.5h4M973 736.5h1M1113 736.5h1M1115 736.5h1M1135 736.5h1M1162 736.5h5M1192 736.5h2M1306 736.5h1M1341 736.5h2M1402 736.5h1M1500 736.5h1M1647 736.5h1M114 737.5h5M132 737.5h1M499 737.5h1M526 737.5h1M596 737.5h1M610 737.5h1M649 737.5h1M651 737.5h1M868 737.5h1M922 737.5h2M946 737.5h3M963 737.5h2M972 737.5h1M1114 737.5h1M1136 737.5h1M1161 737.5h1M1194 737.5h3M1305 737.5h1M1307 737.5h1M1340 737.5h1M1500 737.5h1M1645 737.5h2M119 738.5h5M132 738.5h1M500 738.5h1M526 738.5h1M597 738.5h2M608 738.5h2M650 738.5h1M868 738.5h1M922 738.5h1M924 738.5h2M945 738.5h1M965 738.5h2M972 738.5h1M1137 738.5h1M1145 738.5h2M1160 738.5h1M1197 738.5h4M1207 738.5h4M1305 738.5h1M1308 738.5h1M1339 738.5h1M1501 738.5h1M1644 738.5h1M124 739.5h2M131 739.5h1M500 739.5h1M525 739.5h1M599 739.5h1M607 739.5h1M868 739.5h1M921 739.5h1M926 739.5h2M944 739.5h1M967 739.5h1M971 739.5h1M1137 739.5h1M1141 739.5h4M1147 739.5h1M1159 739.5h1M1201 739.5h6M1210 739.5h1M1304 739.5h1M1309 739.5h1M1338 739.5h1M1501 739.5h1M1643 739.5h1M126 740.5h2M131 740.5h1M501 740.5h1M525 740.5h1M600 740.5h1M605 740.5h2M869 740.5h1M921 740.5h1M928 740.5h2M943 740.5h1M968 740.5h2M971 740.5h1M1138 740.5h3M1148 740.5h1M1158 740.5h1M1211 740.5h1M1304 740.5h1M1310 740.5h1M1336 740.5h2M1501 740.5h1M1642 740.5h1M128 741.5h3M501 741.5h1M525 741.5h1M601 741.5h1M603 741.5h2M869 741.5h1M920 741.5h1M930 741.5h2M941 741.5h2M970 741.5h1M1149 741.5h2M1158 741.5h1M1211 741.5h1M1303 741.5h1M1310 741.5h1M1334 741.5h2M1501 741.5h1M1640 741.5h2M130 742.5h1M502 742.5h1M524 742.5h1M602 742.5h1M869 742.5h1M920 742.5h1M932 742.5h3M940 742.5h1M1151 742.5h1M1157 742.5h1M1212 742.5h1M1303 742.5h1M1311 742.5h1M1332 742.5h2M1502 742.5h1M1639 742.5h1M502 743.5h1M524 743.5h1M870 743.5h1M919 743.5h1M935 743.5h2M939 743.5h1M1152 743.5h1M1156 743.5h1M1212 743.5h1M1274 743.5h5M1302 743.5h1M1312 743.5h1M1321 743.5h11M1502 743.5h1M1546 743.5h1M1637 743.5h2M503 744.5h1M523 744.5h1M870 744.5h1M919 744.5h1M937 744.5h2M1153 744.5h1M1155 744.5h1M1213 744.5h1M1272 744.5h2M1279 744.5h12M1302 744.5h1M1313 744.5h1M1317 744.5h4M1502 744.5h1M1545 744.5h2M1635 744.5h2M503 745.5h1M523 745.5h1M870 745.5h1M919 745.5h1M1154 745.5h1M1213 745.5h1M1270 745.5h2M1291 745.5h1M1301 745.5h1M1314 745.5h3M1502 745.5h1M1544 745.5h1M1547 745.5h1M1634 745.5h1M504 746.5h1M523 746.5h1M870 746.5h1M918 746.5h1M1214 746.5h1M1268 746.5h2M1292 746.5h1M1301 746.5h1M1503 746.5h1M1543 746.5h1M1547 746.5h1M1615 746.5h5M1632 746.5h2M504 747.5h1M514 747.5h5M522 747.5h1M871 747.5h1M918 747.5h1M1214 747.5h1M1266 747.5h2M1293 747.5h1M1300 747.5h1M1503 747.5h1M1542 747.5h1M1547 747.5h1M1610 747.5h5M1620 747.5h3M1630 747.5h2M505 748.5h1M512 748.5h2M519 748.5h4M871 748.5h1M917 748.5h1M1214 748.5h1M1264 748.5h2M1294 748.5h1M1300 748.5h1M1503 748.5h1M1541 748.5h1M1548 748.5h1M1608 748.5h2M1623 748.5h2M1628 748.5h2M505 749.5h1M510 749.5h2M871 749.5h1M882 749.5h3M917 749.5h1M1215 749.5h1M1263 749.5h1M1295 749.5h1M1299 749.5h1M1503 749.5h1M1540 749.5h1M1548 749.5h1M1607 749.5h1M1625 749.5h3M506 750.5h1M508 750.5h2M872 750.5h1M881 750.5h1M885 750.5h4M917 750.5h1M1215 750.5h1M1261 750.5h2M1296 750.5h1M1299 750.5h1M1504 750.5h1M1539 750.5h1M1548 750.5h1M1605 750.5h2M506 751.5h2M872 751.5h1M880 751.5h1M889 751.5h2M916 751.5h1M1216 751.5h1M1259 751.5h2M1297 751.5h2M1504 751.5h1M1538 751.5h1M1549 751.5h1M1603 751.5h2M872 752.5h1M880 752.5h1M891 752.5h1M916 752.5h1M1216 752.5h1M1257 752.5h2M1298 752.5h1M1504 752.5h1M1537 752.5h1M1549 752.5h1M1602 752.5h1M872 753.5h1M879 753.5h1M892 753.5h1M915 753.5h1M1217 753.5h1M1255 753.5h2M1504 753.5h1M1536 753.5h1M1549 753.5h1M1601 753.5h1M873 754.5h1M878 754.5h1M893 754.5h2M906 754.5h3M915 754.5h1M1217 754.5h1M1252 754.5h3M1505 754.5h1M1535 754.5h1M1550 754.5h1M1601 754.5h1M873 755.5h1M877 755.5h1M895 755.5h1M904 755.5h2M909 755.5h4M914 755.5h1M1218 755.5h1M1250 755.5h2M1505 755.5h1M1519 755.5h4M1534 755.5h1M1550 755.5h1M1600 755.5h1M873 756.5h1M876 756.5h1M896 756.5h1M902 756.5h2M913 756.5h2M1218 756.5h2M1249 756.5h1M1505 756.5h1M1514 756.5h5M1523 756.5h2M1534 756.5h1M1550 756.5h1M1599 756.5h1M873 757.5h1M876 757.5h1M897 757.5h1M900 757.5h2M1220 757.5h3M1248 757.5h1M1505 757.5h1M1512 757.5h2M1525 757.5h2M1533 757.5h1M1551 757.5h1M1598 757.5h1M874 758.5h2M898 758.5h2M1223 758.5h2M1248 758.5h1M1506 758.5h1M1510 758.5h2M1527 758.5h1M1532 758.5h1M1551 758.5h1M1598 758.5h1M874 759.5h1M1225 759.5h4M1247 759.5h1M1506 759.5h1M1508 759.5h2M1528 759.5h2M1531 759.5h1M1551 759.5h1M1597 759.5h1M1229 760.5h4M1246 760.5h1M1506 760.5h2M1530 760.5h1M1552 760.5h1M1596 760.5h1M1233 761.5h3M1245 761.5h1M1552 761.5h1M1575 761.5h4M1595 761.5h1M1236 762.5h2M1244 762.5h1M1552 762.5h1M1569 762.5h6M1579 762.5h2M1595 762.5h1M1238 763.5h2M1244 763.5h1M1553 763.5h1M1567 763.5h2M1581 763.5h2M1593 763.5h2M1240 764.5h2M1243 764.5h1M1553 764.5h1M1564 764.5h3M1583 764.5h1M1591 764.5h2M1242 765.5h1M1553 765.5h1M1561 765.5h3M1584 765.5h2M1588 765.5h3M1554 766.5h1M1557 766.5h4M1586 766.5h2M1554 767.5h3" fill="none" stroke="#1e90ff" stroke-width="1"/>
<rect x="1" y="1" width="1687" height="1" fill="#000"/>
<rect x="1" y="502" width="1687" height="1" fill="#000"/>
<rect x="1" y="1" width="1" height="502" fill="#000"/>
<rect x="1687" y="1" width="1" height="502" fill="#000"/>
<rect x="1" y="504" width="1687" height="1" fill="#000"/>
<rect x="1" y="666" width="1687" height="1" fill="#000"/>
<rect x="1" y="504" width="1" height="163" fill="#000"/>
<rect x="1687" y="504" width="1" height="163" fill="#000"/>
<rect x="1" y="668" width="1687" height="1" fill="#000"/>
<rect x="1" y="817" width="1687" height="1" fill="#000"/>
<rect x="1" y="668" width="1" height="150" fill="#000"/>
<rect x="1687" y="668" width="1" height="150" fill="#000"/>
<rect x="2" y="103" width="1686" height="2" fill="#ff0000"/>
<rect x="2" y="191" width="1686" height="2" fill="#32cd32"/>
<rect x="2" y="279" width="1686" height="2" fill="#4169e1"/>
<rect x="2" y="344" width="1686" height="2" fill="#4169e1"/>
<rect x="1688" y="103" width="1" height="1" fill="#000"/>
<rect x="1688" y="4" width="2" height="1" fill="#000"/>
<rect x="1688" y="37" width="2" height="1" fill="#000"/>
<rect x="1688" y="70" width="2" height="1" fill="#000"/>
<rect x="1688" y="136" width="2" height="1" fill="#000"/>
<rect x="1688" y="169" width="2" height="1" fill="#000"/>
<rect x="1688" y="202" width="2" height="1" fill="#000"/>
<rect x="1688" y="235" width="2" height="1" fill="#000"/>
<rect x="1688" y="268" width="2" height="1" fill="#000"/>
<rect x="1688" y="301" width="2" height="1" fill="#000"/>
<rect x="1688" y="334" width="2" height="1" fill="#000"/>
<rect x="1688" y="367" width="2" height="1" fill="#000"/>
<rect x="1688" y="400" width="2" height="1" fill="#000"/>
<rect x="1688" y="433" width="2" height="1" fill="#000"/>
<rect x="1688" y="466" width="2" height="1" fill="#000"/>
<rect x="1688" y="499" width="2" height="1" fill="#000"/>
<rect x="1688" y="506" width="1" height="1" fill="#000"/>
<rect x="1688" y="583" width="1" height="1" fill="#000"/>
<rect x="1688" y="665" width="1" height="1" fill="#000"/>
<rect x="1688" y="670" width="1" height="1" fill="#000"/>
<rect x="1688" y="816" width="1" height="1" fill="#000"/>
<rect x="2" y="818" width="1" height="3" fill="#000"/>
<rect x="66" y="818" width="1" height="3" fill="#000"/>
<rect x="130" y="818" width="1" height="3" fill="#000"/>
<rect x="194" y="818" width="1" height="3" fill="#000"/>
<rect x="258" y="818" width="1" height="3" fill="#000"/>
<rect x="322" y="818" width="1" height="3" fill="#000"/>
<rect x="386" y="818" width="1" height="3" fill="#000"/>
<rect x="450" y="818" width="1" height="3" fill="#000"/>
<rect x="514" y="818" width="1" height="3" fill="#000"/>
<rect x="578" y="818" width="1" height="3" fill="#000"/>
<rect x="642" y="818" width="1" height="3" fill="#000"/>
<rect x="706" y="818" width="1" height="3" fill="#000"/>
<rect x="770" y="818" width="1" height="3" fill="#000"/>
<rect x="834" y="818" width="1" height="3" fill="#000"/>
<rect x="898" y="818" width="1" height="3" fill="#000"/>
<rect x="962" y="818" width="1" height="3" fill="#000"/>
<rect x="1026" y="818" width="1" height="3" fill="#000"/>
<rect x="1090" y="818" width="1" height="3" fill="#000"/>
<rect x="1154" y="818" width="1" height="3" fill="#000"/>
<rect x="1218" y="818" width="1" height="3" fill="#000"/>
<rect x="1282" y="818" width="1" height="3" fill="#000"/>
<rect x="1346" y="818" width="1" height="3" fill="#000"/>
<rect x="1410" y="818" width="1" height="3" fill="#000"/>
<rect x="1474" y="818" width="1" height="3" fill="#000"/>
<rect x="1538" y="818" width="1" height="3" fill="#000"/>
<rect x="1602" y="818" width="1" height="3" fill="#000"/>
<rect x="1666" y="818" width="1" height="3" fill="#000"/>
<rect x="1689" y="98" width="33" height="11" fill="#ff0000"/>
<rect x="1689" y="116" width="33" height="11" fill="#000"/>
<rect x="1689" y="186" width="33" height="11" fill="#32cd32"/>
<rect x="1689" y="274" width="33" height="11" fill="#4169e1"/>
<rect x="1689" y="339" width="33" height="11" fill="#4169e1"/>
<rect x="5" y="8" width="7" height="1" fill="#000"/>
<rect x="6" y="9" width="5" height="1" fill="#000"/>
<rect x="7" y="10" width="3" height="1" fill="#000"/>
<rect x="8" y="11" width="1" height="1" fill="#000"/>
</g>
<text y="13" fill="#000" stroke="#000" stroke-width="0.2" font-size="9.8"><tspan x="17.25" textLength="42.8" lengthAdjust="spacingAndGlyphs">UKOil-,H4</tspan><tspan x="66.2" textLength="28.0" lengthAdjust="spacingAndGlyphs">75.540</tspan><tspan x="97.2" textLength="28.0" lengthAdjust="spacingAndGlyphs">75.620</tspan><tspan x="128.2" textLength="28.0" lengthAdjust="spacingAndGlyphs">75.540</tspan><tspan x="159.2" textLength="28.0" lengthAdjust="spacingAndGlyphs">75.620</tspan></text>
<text x="1692.9" y="8" fill="#000" stroke="#000" stroke-width="0.2" font-size="9.8" textLength="28" lengthAdjust="spacingAndGlyphs">78.290</text>
<text x="1692.9" y="41" fill="#000" stroke="#000" stroke-width="0.2" font-size="9.8" textLength="28" lengthAdjust="spacingAndGlyphs">77.550</text>
<text x="1692.9" y="74" fill="#000" stroke="#000" stroke-width="0.2" font-size="9.8" textLength="28" lengthAdjust="spacingAndGlyphs">76.790</text>
<text x="1692.9" y="140" fill="#000" stroke="#000" stroke-width="0.2" font-size="9.8" textLength="28" lengthAdjust="spacingAndGlyphs">75.270</text>
<text x="1692.9" y="173" fill="#000" stroke="#000" stroke-width="0.2" font-size="9.8" textLength="28" lengthAdjust="spacingAndGlyphs">74.530</text>
<text x="1692.9" y="206" fill="#000" stroke="#000" stroke-width="0.2" font-size="9.8" textLength="28" lengthAdjust="spacingAndGlyphs">73.770</text>
<text x="1692.9" y="239" fill="#000" stroke="#000" stroke-width="0.2" font-size="9.8" textLength="28" lengthAdjust="spacingAndGlyphs">73.010</text>
<text x="1692.9" y="272" fill="#000" stroke="#000" stroke-width="0.2" font-size="9.8" textLength="28" lengthAdjust="spacingAndGlyphs">72.270</text>
<text x="1692.9" y="305" fill="#000" stroke="#000" stroke-width="0.2" font-size="9.8" textLength="28" lengthAdjust="spacingAndGlyphs">71.510</text>
<text x="1692.9" y="338" fill="#000" stroke="#000" stroke-width="0.2" font-size="9.8" textLength="28" lengthAdjust="spacingAndGlyphs">70.750</text>
<text x="1692.9" y="371" fill="#000" stroke="#000" stroke-width="0.2" font-size="9.8" textLength="28" lengthAdjust="spacingAndGlyphs">70.010</text>
<text x="1692.9" y="404" fill="#000" stroke="#000" stroke-width="0.2" font-size="9.8" textLength="28" lengthAdjust="spacingAndGlyphs">69.250</text>
<text x="1692.9" y="437" fill="#000" stroke="#000" stroke-width="0.2" font-size="9.8" textLength="28" lengthAdjust="spacingAndGlyphs">68.490</text>
<text x="1692.9" y="470" fill="#000" stroke="#000" stroke-width="0.2" font-size="9.8" textLength="28" lengthAdjust="spacingAndGlyphs">67.730</text>
<text x="1692.9" y="503" fill="#000" stroke="#000" stroke-width="0.2" font-size="9.8" textLength="28" lengthAdjust="spacingAndGlyphs">66.990</text>
<text x="1692.9" y="107" fill="#fff" stroke="#fff" stroke-width="0.2" font-size="9.8" textLength="28" lengthAdjust="spacingAndGlyphs">76.000</text>
<text x="1692.9" y="125" fill="#fff" stroke="#fff" stroke-width="0.2" font-size="9.8" textLength="28" lengthAdjust="spacingAndGlyphs">75.620</text>
<text x="1692.9" y="195" fill="#fff" stroke="#fff" stroke-width="0.2" font-size="9.8" textLength="28" lengthAdjust="spacingAndGlyphs">74.000</text>
<text x="1692.9" y="283" fill="#fff" stroke="#fff" stroke-width="0.2" font-size="9.8" textLength="28" lengthAdjust="spacingAndGlyphs">72.000</text>
<text x="1692.9" y="348" fill="#fff" stroke="#fff" stroke-width="0.2" font-size="9.8" textLength="28" lengthAdjust="spacingAndGlyphs">70.500</text>
<text y="517" fill="#000" stroke="#000" stroke-width="0.2" font-size="9.8"><tspan x="6" textLength="66.2" lengthAdjust="spacingAndGlyphs">MACD(12,26,9)</tspan><tspan x="74.7" textLength="30.6" lengthAdjust="spacingAndGlyphs">-0.0172</tspan><tspan x="108.7" textLength="30.6" lengthAdjust="spacingAndGlyphs">-0.3836</tspan></text>
<text x="1691.2" y="515" fill="#000" stroke="#000" stroke-width="0.2" font-size="9.8" textLength="28" lengthAdjust="spacingAndGlyphs">0.7507</text>
<text x="1691.2" y="587" fill="#000" stroke="#000" stroke-width="0.2" font-size="9.8" textLength="18.5" lengthAdjust="spacingAndGlyphs">0.00</text>
<text x="1692.0" y="663" fill="#000" stroke="#000" stroke-width="0.2" font-size="9.8" textLength="32.5" lengthAdjust="spacingAndGlyphs">-0.7918</text>
<text y="681" fill="#000" stroke="#000" stroke-width="0.2" font-size="9.8"><tspan x="6" textLength="31.0" lengthAdjust="spacingAndGlyphs">RSI(14)</tspan><tspan x="40.9" textLength="33.2" lengthAdjust="spacingAndGlyphs">57.7194</tspan></text>
<text x="1691.2" y="679" fill="#000" stroke="#000" stroke-width="0.2" font-size="9.8" textLength="15" lengthAdjust="spacingAndGlyphs">100</text>
<text x="1691.2" y="718" fill="#000" stroke="#000" stroke-width="0.2" font-size="9.8" textLength="9.5" lengthAdjust="spacingAndGlyphs">70</text>
<text x="1691.2" y="776" fill="#000" stroke="#000" stroke-width="0.2" font-size="9.8" textLength="9.5" lengthAdjust="spacingAndGlyphs">30</text>
<text x="1691.2" y="814" fill="#000" stroke="#000" stroke-width="0.2" font-size="9.8" textLength="5" lengthAdjust="spacingAndGlyphs">0</text>
<text y="830" fill="#000" stroke="#000" stroke-width="0.2" font-size="9.8"><tspan x="1.00" textLength="10.4" lengthAdjust="spacingAndGlyphs">24</tspan><tspan x="14.60" textLength="17.8" lengthAdjust="spacingAndGlyphs">May</tspan><tspan x="35.90" textLength="19.9" lengthAdjust="spacingAndGlyphs">2021</tspan></text>
<text y="830" fill="#000" stroke="#000" stroke-width="0.2" font-size="9.8"><tspan x="65.00" textLength="10.4" lengthAdjust="spacingAndGlyphs">26</tspan><tspan x="78.60" textLength="17.8" lengthAdjust="spacingAndGlyphs">May</tspan><tspan x="99.90" textLength="23.6" lengthAdjust="spacingAndGlyphs">00:00</tspan></text>
<text y="830" fill="#000" stroke="#000" stroke-width="0.2" font-size="9.8"><tspan x="129.00" textLength="10.4" lengthAdjust="spacingAndGlyphs">27</tspan><tspan x="142.60" textLength="17.8" lengthAdjust="spacingAndGlyphs">May</tspan><tspan x="163.90" textLength="23.6" lengthAdjust="spacingAndGlyphs">08:00</tspan></text>
<text y="830" fill="#000" stroke="#000" stroke-width="0.2" font-size="9.8"><tspan x="193.00" textLength="10.4" lengthAdjust="spacingAndGlyphs">28</tspan><tspan x="206.60" textLength="17.8" lengthAdjust="spacingAndGlyphs">May</tspan><tspan x="227.90" textLength="23.6" lengthAdjust="spacingAndGlyphs">16:00</tspan></text>
<text y="830" fill="#000" stroke="#000" stroke-width="0.2" font-size="9.8"><tspan x="256.70" textLength="5.2" lengthAdjust="spacingAndGlyphs">1</tspan><tspan x="265.10" textLength="13.5" lengthAdjust="spacingAndGlyphs">Jun</tspan><tspan x="281.50" textLength="23.6" lengthAdjust="spacingAndGlyphs">00:00</tspan></text>
<text y="830" fill="#000" stroke="#000" stroke-width="0.2" font-size="9.8"><tspan x="320.70" textLength="5.2" lengthAdjust="spacingAndGlyphs">2</tspan><tspan x="329.10" textLength="13.5" lengthAdjust="spacingAndGlyphs">Jun</tspan><tspan x="345.50" textLength="23.6" lengthAdjust="spacingAndGlyphs">08:00</tspan></text>
<text y="830" fill="#000" stroke="#000" stroke-width="0.2" font-size="9.8"><tspan x="384.70" textLength="5.2" lengthAdjust="spacingAndGlyphs">3</tspan><tspan x="393.10" textLength="13.5" lengthAdjust="spacingAndGlyphs">Jun</tspan><tspan x="409.50" textLength="23.6" lengthAdjust="spacingAndGlyphs">16:00</tspan></text>
<text y="830" fill="#000" stroke="#000" stroke-width="0.2" font-size="9.8"><tspan x="448.70" textLength="5.2" lengthAdjust="spacingAndGlyphs">6</tspan><tspan x="457.10" textLength="13.5" lengthAdjust="spacingAndGlyphs">Jun</tspan><tspan x="473.50" textLength="23.6" lengthAdjust="spacingAndGlyphs">23:00</tspan></text>
<text y="830" fill="#000" stroke="#000" stroke-width="0.2" font-size="9.8"><tspan x="512.70" textLength="5.2" lengthAdjust="spacingAndGlyphs">8</tspan><tspan x="521.10" textLength="13.5" lengthAdjust="spacingAndGlyphs">Jun</tspan><tspan x="537.50" textLength="23.6" lengthAdjust="spacingAndGlyphs">04:00</tspan></text>
<text y="830" fill="#000" stroke="#000" stroke-width="0.2" font-size="9.8"><tspan x="576.70" textLength="5.2" lengthAdjust="spacingAndGlyphs">9</tspan><tspan x="585.10" textLength="13.5" lengthAdjust="spacingAndGlyphs">Jun</tspan><tspan x="601.50" textLength="23.6" lengthAdjust="spacingAndGlyphs">12:00</tspan></text>
<text y="830" fill="#000" stroke="#000" stroke-width="0.2" font-size="9.8"><tspan x="641.00" textLength="10.4" lengthAdjust="spacingAndGlyphs">10</tspan><tspan x="654.60" textLength="13.5" lengthAdjust="spacingAndGlyphs">Jun</tspan><tspan x="671.00" textLength="23.6" lengthAdjust="spacingAndGlyphs">20:00</tspan></text>
<text y="830" fill="#000" stroke="#000" stroke-width="0.2" font-size="9.8"><tspan x="705.00" textLength="10.4" lengthAdjust="spacingAndGlyphs">14</tspan><tspan x="718.60" textLength="13.5" lengthAdjust="spacingAndGlyphs">Jun</tspan><tspan x="735.00" textLength="23.6" lengthAdjust="spacingAndGlyphs">00:00</tspan></text>
<text y="830" fill="#000" stroke="#000" stroke-width="0.2" font-size="9.8"><tspan x="769.00" textLength="10.4" lengthAdjust="spacingAndGlyphs">15</tspan><tspan x="782.60" textLength="13.5" lengthAdjust="spacingAndGlyphs">Jun</tspan><tspan x="799.00" textLength="23.6" lengthAdjust="spacingAndGlyphs">08:00</tspan></text>
<text y="830" fill="#000" stroke="#000" stroke-width="0.2" font-size="9.8"><tspan x="833.00" textLength="10.4" lengthAdjust="spacingAndGlyphs">16</tspan><tspan x="846.60" textLength="13.5" lengthAdjust="spacingAndGlyphs">Jun</tspan><tspan x="863.00" textLength="23.6" lengthAdjust="spacingAndGlyphs">16:00</tspan></text>
<text y="830" fill="#000" stroke="#000" stroke-width="0.2" font-size="9.8"><tspan x="897.00" textLength="10.4" lengthAdjust="spacingAndGlyphs">18</tspan><tspan x="910.60" textLength="13.5" lengthAdjust="spacingAndGlyphs">Jun</tspan><tspan x="927.00" textLength="23.6" lengthAdjust="spacingAndGlyphs">00:00</tspan></text>
<text y="830" fill="#000" stroke="#000" stroke-width="0.2" font-size="9.8"><tspan x="961.00" textLength="10.4" lengthAdjust="spacingAndGlyphs">21</tspan><tspan x="974.60" textLength="13.5" lengthAdjust="spacingAndGlyphs">Jun</tspan><tspan x="991.00" textLength="23.6" lengthAdjust="spacingAndGlyphs">04:00</tspan></text>
<text y="830" fill="#000" stroke="#000" stroke-width="0.2" font-size="9.8"><tspan x="1025.00" textLength="10.4" lengthAdjust="spacingAndGlyphs">22</tspan><tspan x="1038.60" textLength="13.5" lengthAdjust="spacingAndGlyphs">Jun</tspan><tspan x="1055.00" textLength="23.6" lengthAdjust="spacingAndGlyphs">12:00</tspan></text>
<text y="830" fill="#000" stroke="#000" stroke-width="0.2" font-size="9.8"><tspan x="1089.00" textLength="10.4" lengthAdjust="spacingAndGlyphs">23</tspan><tspan x="1102.60" textLength="13.5" lengthAdjust="spacingAndGlyphs">Jun</tspan><tspan x="1119.00" textLength="23.6" lengthAdjust="spacingAndGlyphs">20:00</tspan></text>
<text y="830" fill="#000" stroke="#000" stroke-width="0.2" font-size="9.8"><tspan x="1153.00" textLength="10.4" lengthAdjust="spacingAndGlyphs">25</tspan><tspan x="1166.60" textLength="13.5" lengthAdjust="spacingAndGlyphs">Jun</tspan><tspan x="1183.00" textLength="23.6" lengthAdjust="spacingAndGlyphs">08:00</tspan></text>
<text y="830" fill="#000" stroke="#000" stroke-width="0.2" font-size="9.8"><tspan x="1217.00" textLength="10.4" lengthAdjust="spacingAndGlyphs">28</tspan><tspan x="1230.60" textLength="13.5" lengthAdjust="spacingAndGlyphs">Jun</tspan><tspan x="1247.00" textLength="23.6" lengthAdjust="spacingAndGlyphs">12:00</tspan></text>
<text y="830" fill="#000" stroke="#000" stroke-width="0.2" font-size="9.8"><tspan x="1281.00" textLength="10.4" lengthAdjust="spacingAndGlyphs">29</tspan><tspan x="1294.60" textLength="13.5" lengthAdjust="spacingAndGlyphs">Jun</tspan><tspan x="1311.00" textLength="23.6" lengthAdjust="spacingAndGlyphs">20:00</tspan></text>
<text y="830" fill="#000" stroke="#000" stroke-width="0.2" font-size="9.8"><tspan x="1344.70" textLength="5.2" lengthAdjust="spacingAndGlyphs">1</tspan><tspan x="1353.10" textLength="11.2" lengthAdjust="spacingAndGlyphs">Jul</tspan><tspan x="1367.30" textLength="23.0" lengthAdjust="spacingAndGlyphs">04:00</tspan></text>
<text y="830" fill="#000" stroke="#000" stroke-width="0.2" font-size="9.8"><tspan x="1408.70" textLength="5.2" lengthAdjust="spacingAndGlyphs">2</tspan><tspan x="1417.10" textLength="11.2" lengthAdjust="spacingAndGlyphs">Jul</tspan><tspan x="1431.30" textLength="23.0" lengthAdjust="spacingAndGlyphs">12:00</tspan></text>
<text y="830" fill="#000" stroke="#000" stroke-width="0.2" font-size="9.8"><tspan x="1472.70" textLength="5.2" lengthAdjust="spacingAndGlyphs">5</tspan><tspan x="1481.10" textLength="11.2" lengthAdjust="spacingAndGlyphs">Jul</tspan><tspan x="1495.30" textLength="23.0" lengthAdjust="spacingAndGlyphs">16:00</tspan></text>
<text y="830" fill="#000" stroke="#000" stroke-width="0.2" font-size="9.8"><tspan x="1536.70" textLength="5.2" lengthAdjust="spacingAndGlyphs">7</tspan><tspan x="1545.10" textLength="11.2" lengthAdjust="spacingAndGlyphs">Jul</tspan><tspan x="1559.30" textLength="23.0" lengthAdjust="spacingAndGlyphs">04:00</tspan></text>
<text y="830" fill="#000" stroke="#000" stroke-width="0.2" font-size="9.8"><tspan x="1600.70" textLength="5.2" lengthAdjust="spacingAndGlyphs">8</tspan><tspan x="1609.10" textLength="11.2" lengthAdjust="spacingAndGlyphs">Jul</tspan><tspan x="1623.30" textLength="23.0" lengthAdjust="spacingAndGlyphs">12:00</tspan></text>
<text y="830" fill="#000" stroke="#000" stroke-width="0.2" font-size="9.8"><tspan x="1664.70" textLength="5.2" lengthAdjust="spacingAndGlyphs">9</tspan><tspan x="1673.10" textLength="11.2" lengthAdjust="spacingAndGlyphs">Jul</tspan><tspan x="1687.30" textLength="23.0" lengthAdjust="spacingAndGlyphs">20:00</tspan></text>
<text x="1080.6" y="433.2" fill="#ed1c24" stroke="#ed1c24" stroke-width="0" font-size="36.5" font-family='"Liberation Sans", "Noto Sans CJK SC", sans-serif'>多空转折点74</text>
</svg>
</body></html>
